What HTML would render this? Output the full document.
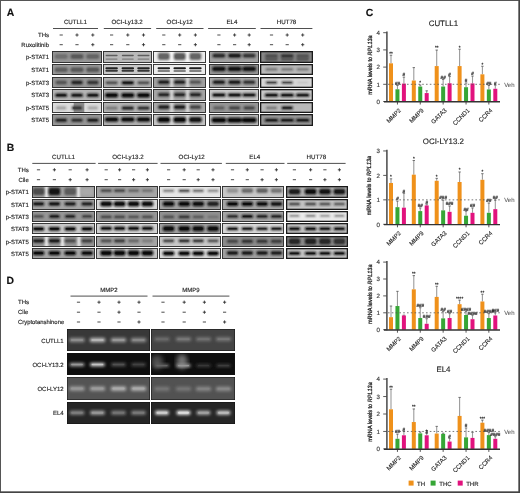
<!DOCTYPE html>
<html><head><meta charset="utf-8"><title>Figure</title>
<style>
html,body{margin:0;padding:0;background:#fff;}
body{width:520px;height:493px;overflow:hidden;font-family:"Liberation Sans",sans-serif;}
svg{display:block;will-change:transform;text-rendering:geometricPrecision;}
</style></head><body>
<svg width="520" height="493" viewBox="0 0 520 493" font-family="Liberation Sans, sans-serif"><defs><filter id="bl0_9" x="-20%" y="-50%" width="140%" height="200%"><feGaussianBlur stdDeviation="0.9"/></filter><filter id="bl1_4" x="-20%" y="-50%" width="140%" height="200%"><feGaussianBlur stdDeviation="1.4"/></filter><filter id="bl2_5" x="-20%" y="-50%" width="140%" height="200%"><feGaussianBlur stdDeviation="2.5"/></filter><filter id="bl1" x="-20%" y="-20%" width="140%" height="140%"><feGaussianBlur stdDeviation="1"/></filter></defs><text x="6.8" y="16.3" font-size="10.4" text-anchor="start" fill="#111" font-weight="bold" stroke="#111" stroke-width="0.14">A</text><text x="75.4" y="24.4" font-size="6.2" text-anchor="middle" fill="#1c1c1c" font-weight="normal" stroke="#1c1c1c" stroke-width="0.14">CUTLL1</text><line x1="53" y1="28.5" x2="98" y2="28.5" stroke="#222" stroke-width="0.8"/><line x1="59.6" y1="35" x2="62.8" y2="35" stroke="#2a2a2a" stroke-width="0.85"/><line x1="59.6" y1="44.7" x2="62.8" y2="44.7" stroke="#2a2a2a" stroke-width="0.85"/><line x1="75.4" y1="35" x2="78.6" y2="35" stroke="#2a2a2a" stroke-width="0.85"/><line x1="77" y1="33.4" x2="77" y2="36.6" stroke="#2a2a2a" stroke-width="0.85"/><line x1="75.4" y1="44.7" x2="78.6" y2="44.7" stroke="#2a2a2a" stroke-width="0.85"/><line x1="91.2" y1="35" x2="94.4" y2="35" stroke="#2a2a2a" stroke-width="0.85"/><line x1="92.8" y1="33.4" x2="92.8" y2="36.6" stroke="#2a2a2a" stroke-width="0.85"/><line x1="91.2" y1="44.7" x2="94.4" y2="44.7" stroke="#2a2a2a" stroke-width="0.85"/><line x1="92.8" y1="43.1" x2="92.8" y2="46.3" stroke="#2a2a2a" stroke-width="0.85"/><text x="127.1" y="24.4" font-size="6.2" text-anchor="middle" fill="#1c1c1c" font-weight="normal" stroke="#1c1c1c" stroke-width="0.14">OCI-Ly13.2</text><line x1="103.8" y1="28.5" x2="151.1" y2="28.5" stroke="#222" stroke-width="0.8"/><line x1="110" y1="35" x2="113.2" y2="35" stroke="#2a2a2a" stroke-width="0.85"/><line x1="110" y1="44.7" x2="113.2" y2="44.7" stroke="#2a2a2a" stroke-width="0.85"/><line x1="126.2" y1="35" x2="129.4" y2="35" stroke="#2a2a2a" stroke-width="0.85"/><line x1="127.8" y1="33.4" x2="127.8" y2="36.6" stroke="#2a2a2a" stroke-width="0.85"/><line x1="126.2" y1="44.7" x2="129.4" y2="44.7" stroke="#2a2a2a" stroke-width="0.85"/><line x1="141.9" y1="35" x2="145.1" y2="35" stroke="#2a2a2a" stroke-width="0.85"/><line x1="143.5" y1="33.4" x2="143.5" y2="36.6" stroke="#2a2a2a" stroke-width="0.85"/><line x1="141.9" y1="44.7" x2="145.1" y2="44.7" stroke="#2a2a2a" stroke-width="0.85"/><line x1="143.5" y1="43.1" x2="143.5" y2="46.3" stroke="#2a2a2a" stroke-width="0.85"/><text x="179.7" y="24.4" font-size="6.2" text-anchor="middle" fill="#1c1c1c" font-weight="normal" stroke="#1c1c1c" stroke-width="0.14">OCI-Ly12</text><line x1="156.2" y1="28.5" x2="203.5" y2="28.5" stroke="#222" stroke-width="0.8"/><line x1="162.2" y1="35" x2="165.4" y2="35" stroke="#2a2a2a" stroke-width="0.85"/><line x1="162.2" y1="44.7" x2="165.4" y2="44.7" stroke="#2a2a2a" stroke-width="0.85"/><line x1="178.1" y1="35" x2="181.3" y2="35" stroke="#2a2a2a" stroke-width="0.85"/><line x1="179.7" y1="33.4" x2="179.7" y2="36.6" stroke="#2a2a2a" stroke-width="0.85"/><line x1="178.1" y1="44.7" x2="181.3" y2="44.7" stroke="#2a2a2a" stroke-width="0.85"/><line x1="193.8" y1="35" x2="197" y2="35" stroke="#2a2a2a" stroke-width="0.85"/><line x1="195.4" y1="33.4" x2="195.4" y2="36.6" stroke="#2a2a2a" stroke-width="0.85"/><line x1="193.8" y1="44.7" x2="197" y2="44.7" stroke="#2a2a2a" stroke-width="0.85"/><line x1="195.4" y1="43.1" x2="195.4" y2="46.3" stroke="#2a2a2a" stroke-width="0.85"/><text x="231.9" y="24.4" font-size="6.2" text-anchor="middle" fill="#1c1c1c" font-weight="normal" stroke="#1c1c1c" stroke-width="0.14">EL4</text><line x1="208.1" y1="28.5" x2="255.8" y2="28.5" stroke="#222" stroke-width="0.8"/><line x1="217.3" y1="35" x2="220.5" y2="35" stroke="#2a2a2a" stroke-width="0.85"/><line x1="217.3" y1="44.7" x2="220.5" y2="44.7" stroke="#2a2a2a" stroke-width="0.85"/><line x1="233" y1="35" x2="236.2" y2="35" stroke="#2a2a2a" stroke-width="0.85"/><line x1="234.6" y1="33.4" x2="234.6" y2="36.6" stroke="#2a2a2a" stroke-width="0.85"/><line x1="233" y1="44.7" x2="236.2" y2="44.7" stroke="#2a2a2a" stroke-width="0.85"/><line x1="247.6" y1="35" x2="250.8" y2="35" stroke="#2a2a2a" stroke-width="0.85"/><line x1="249.2" y1="33.4" x2="249.2" y2="36.6" stroke="#2a2a2a" stroke-width="0.85"/><line x1="247.6" y1="44.7" x2="250.8" y2="44.7" stroke="#2a2a2a" stroke-width="0.85"/><line x1="249.2" y1="43.1" x2="249.2" y2="46.3" stroke="#2a2a2a" stroke-width="0.85"/><text x="286.5" y="24.4" font-size="6.2" text-anchor="middle" fill="#1c1c1c" font-weight="normal" stroke="#1c1c1c" stroke-width="0.14">HUT78</text><line x1="260.5" y1="28.5" x2="312.4" y2="28.5" stroke="#222" stroke-width="0.8"/><line x1="269.9" y1="35" x2="273.1" y2="35" stroke="#2a2a2a" stroke-width="0.85"/><line x1="269.9" y1="44.7" x2="273.1" y2="44.7" stroke="#2a2a2a" stroke-width="0.85"/><line x1="285.6" y1="35" x2="288.8" y2="35" stroke="#2a2a2a" stroke-width="0.85"/><line x1="287.2" y1="33.4" x2="287.2" y2="36.6" stroke="#2a2a2a" stroke-width="0.85"/><line x1="285.6" y1="44.7" x2="288.8" y2="44.7" stroke="#2a2a2a" stroke-width="0.85"/><line x1="301.1" y1="35" x2="304.3" y2="35" stroke="#2a2a2a" stroke-width="0.85"/><line x1="302.7" y1="33.4" x2="302.7" y2="36.6" stroke="#2a2a2a" stroke-width="0.85"/><line x1="301.1" y1="44.7" x2="304.3" y2="44.7" stroke="#2a2a2a" stroke-width="0.85"/><line x1="302.7" y1="43.1" x2="302.7" y2="46.3" stroke="#2a2a2a" stroke-width="0.85"/><text x="49" y="37" font-size="6" text-anchor="end" fill="#1c1c1c" font-weight="normal" stroke="#1c1c1c" stroke-width="0.14">THs</text><text x="49" y="46.8" font-size="6" text-anchor="end" fill="#1c1c1c" font-weight="normal" stroke="#1c1c1c" stroke-width="0.14">Ruxolitinib</text><text x="49" y="59.00000000000001" font-size="6" text-anchor="end" fill="#1c1c1c" font-weight="normal" stroke="#1c1c1c" stroke-width="0.14">p-STAT1</text><text x="49" y="71.7" font-size="6" text-anchor="end" fill="#1c1c1c" font-weight="normal" stroke="#1c1c1c" stroke-width="0.14">STAT1</text><text x="49" y="84.80000000000001" font-size="6" text-anchor="end" fill="#1c1c1c" font-weight="normal" stroke="#1c1c1c" stroke-width="0.14">p-STAT3</text><text x="49" y="97.30000000000001" font-size="6" text-anchor="end" fill="#1c1c1c" font-weight="normal" stroke="#1c1c1c" stroke-width="0.14">STAT3</text><text x="49" y="110.0" font-size="6" text-anchor="end" fill="#1c1c1c" font-weight="normal" stroke="#1c1c1c" stroke-width="0.14">p-STAT5</text><text x="49" y="122.10000000000001" font-size="6" text-anchor="end" fill="#1c1c1c" font-weight="normal" stroke="#1c1c1c" stroke-width="0.14">STAT5</text><clipPath id="c1"><rect x="52" y="51" width="50" height="12"/></clipPath><g clip-path="url(#c1)"><rect x="52" y="51" width="50" height="12" fill="#969696"/><g filter="url(#bl0_9)"><rect x="54.55" y="53.90" width="13.30" height="5.00" rx="2.00" fill="#707070"/><rect x="70.35" y="53.90" width="13.30" height="5.00" rx="2.00" fill="#585858"/><rect x="86.15" y="53.90" width="13.30" height="5.00" rx="2.00" fill="#646464"/></g><g><rect x="56.20" y="55.35" width="10.00" height="2.10" rx="1.05" fill="#707070"/><rect x="72.00" y="55.35" width="10.00" height="2.10" rx="1.05" fill="#585858"/><rect x="87.80" y="55.35" width="10.00" height="2.10" rx="1.05" fill="#646464"/></g></g><rect x="52.45" y="51.45" width="49.10" height="11.10" fill="none" stroke="#2a2a2a" stroke-width="0.9"/><clipPath id="c2"><rect x="52" y="64" width="50" height="11"/></clipPath><g clip-path="url(#c2)"><rect x="52" y="64" width="50" height="11" fill="#9b9b9b"/><g filter="url(#bl0_9)"><rect x="54.55" y="67.30" width="13.30" height="5.00" rx="2.00" fill="#5f5f5f"/><rect x="70.35" y="67.30" width="13.30" height="5.00" rx="2.00" fill="#585858"/><rect x="86.15" y="67.30" width="13.30" height="5.00" rx="2.00" fill="#585858"/></g><g><rect x="56.20" y="68.75" width="10.00" height="2.10" rx="1.05" fill="#5f5f5f"/><rect x="72.00" y="68.75" width="10.00" height="2.10" rx="1.05" fill="#585858"/><rect x="87.80" y="68.75" width="10.00" height="2.10" rx="1.05" fill="#585858"/></g></g><rect x="52.45" y="64.45" width="49.10" height="10.10" fill="none" stroke="#2a2a2a" stroke-width="0.9"/><clipPath id="c3"><rect x="52" y="77" width="50" height="11"/></clipPath><g clip-path="url(#c3)"><rect x="52" y="77" width="50" height="11" fill="#969696"/><g filter="url(#bl0_9)"><rect x="55.30" y="80.60" width="11.80" height="3.80" rx="1.90" fill="#555555"/><rect x="71.10" y="80.60" width="11.80" height="3.80" rx="1.90" fill="#282828"/><rect x="86.90" y="80.60" width="11.80" height="3.80" rx="1.90" fill="#373737"/></g><g><rect x="56.80" y="81.75" width="8.80" height="1.50" rx="0.75" fill="#555555"/><rect x="72.60" y="81.75" width="8.80" height="1.50" rx="0.75" fill="#282828"/><rect x="88.40" y="81.75" width="8.80" height="1.50" rx="0.75" fill="#373737"/></g></g><rect x="52.45" y="77.45" width="49.10" height="10.10" fill="none" stroke="#2a2a2a" stroke-width="0.9"/><clipPath id="c4"><rect x="52" y="89" width="50" height="12"/></clipPath><g clip-path="url(#c4)"><rect x="52" y="89" width="50" height="12" fill="#b4b4b4"/><g filter="url(#bl0_9)"><rect x="55.05" y="93.50" width="12.30" height="3.40" rx="1.70" fill="#141414"/><rect x="70.85" y="93.50" width="12.30" height="3.40" rx="1.70" fill="#191919"/><rect x="86.65" y="93.50" width="12.30" height="3.40" rx="1.70" fill="#141414"/></g><g><rect x="56.60" y="94.55" width="9.20" height="1.30" rx="0.65" fill="#141414"/><rect x="72.40" y="94.55" width="9.20" height="1.30" rx="0.65" fill="#191919"/><rect x="88.20" y="94.55" width="9.20" height="1.30" rx="0.65" fill="#141414"/></g></g><rect x="52.45" y="89.45" width="49.10" height="11.10" fill="none" stroke="#2a2a2a" stroke-width="0.9"/><clipPath id="c5"><rect x="52" y="102" width="50" height="11"/></clipPath><g clip-path="url(#c5)"><rect x="52" y="102" width="50" height="11" fill="#dcdcdc"/><g><rect x="73.7" y="100" width="10.6" height="15" fill="#8c8c8c"/></g><g filter="url(#bl0_9)"><rect x="55.80" y="106.00" width="10.80" height="3.80" rx="1.90" fill="#aaaaaa"/><rect x="71.60" y="106.00" width="10.80" height="3.80" rx="1.90" fill="#3c3c3c"/><rect x="87.40" y="106.00" width="10.80" height="3.80" rx="1.90" fill="#afafaf"/></g><g><rect x="57.20" y="107.15" width="8.00" height="1.50" rx="0.75" fill="#aaaaaa"/><rect x="73.00" y="107.15" width="8.00" height="1.50" rx="0.75" fill="#3c3c3c"/><rect x="88.80" y="107.15" width="8.00" height="1.50" rx="0.75" fill="#afafaf"/></g></g><rect x="52.45" y="102.45" width="49.10" height="10.10" fill="none" stroke="#2a2a2a" stroke-width="0.9"/><clipPath id="c6"><rect x="52" y="114" width="50" height="12"/></clipPath><g clip-path="url(#c6)"><rect x="52" y="114" width="50" height="12" fill="#969696"/><g filter="url(#bl0_9)"><rect x="55.30" y="118.50" width="11.80" height="3.40" rx="1.70" fill="#232323"/><rect x="71.10" y="118.50" width="11.80" height="3.40" rx="1.70" fill="#323232"/><rect x="86.90" y="118.50" width="11.80" height="3.40" rx="1.70" fill="#1e1e1e"/></g><g><rect x="56.80" y="119.55" width="8.80" height="1.30" rx="0.65" fill="#232323"/><rect x="72.60" y="119.55" width="8.80" height="1.30" rx="0.65" fill="#323232"/><rect x="88.40" y="119.55" width="8.80" height="1.30" rx="0.65" fill="#1e1e1e"/></g></g><rect x="52.45" y="114.45" width="49.10" height="11.10" fill="none" stroke="#2a2a2a" stroke-width="0.9"/><clipPath id="c7"><rect x="103" y="51" width="49" height="12"/></clipPath><g clip-path="url(#c7)"><rect x="103" y="51" width="49" height="12" fill="#b9b9b9"/><g><rect x="105.60" y="54.80" width="12.00" height="1.40" rx="0.70" fill="#5f5f5f"/><rect x="105.60" y="58.40" width="12.00" height="1.40" rx="0.70" fill="#7d7d7d"/><rect x="121.80" y="54.80" width="12.00" height="1.40" rx="0.70" fill="#5a5a5a"/><rect x="121.80" y="58.40" width="12.00" height="1.40" rx="0.70" fill="#7d7d7d"/><rect x="137.50" y="54.80" width="12.00" height="1.40" rx="0.70" fill="#5f5f5f"/><rect x="137.50" y="58.40" width="12.00" height="1.40" rx="0.70" fill="#7d7d7d"/></g></g><rect x="103.45" y="51.45" width="48.10" height="11.10" fill="none" stroke="#2a2a2a" stroke-width="0.9"/><clipPath id="c8"><rect x="103" y="64" width="49" height="11"/></clipPath><g clip-path="url(#c8)"><rect x="103" y="64" width="49" height="11" fill="#c8c8c8"/><g><rect x="105.35" y="67.30" width="12.50" height="2.00" rx="1.00" fill="#232323"/><rect x="105.35" y="69.70" width="12.50" height="2.00" rx="1.00" fill="#373737"/><rect x="121.55" y="67.30" width="12.50" height="2.00" rx="1.00" fill="#232323"/><rect x="121.55" y="69.70" width="12.50" height="2.00" rx="1.00" fill="#373737"/><rect x="137.25" y="67.30" width="12.50" height="2.00" rx="1.00" fill="#232323"/><rect x="137.25" y="69.70" width="12.50" height="2.00" rx="1.00" fill="#373737"/></g></g><rect x="103.45" y="64.45" width="48.10" height="10.10" fill="none" stroke="#2a2a2a" stroke-width="0.9"/><clipPath id="c9"><rect x="103" y="77" width="49" height="11"/></clipPath><g clip-path="url(#c9)"><rect x="103" y="77" width="49" height="11" fill="#b2b2b2"/><g filter="url(#bl0_9)"><rect x="105.20" y="80.90" width="12.80" height="3.60" rx="1.80" fill="#5a5a5a"/><rect x="121.40" y="80.90" width="12.80" height="3.60" rx="1.80" fill="#191919"/><rect x="137.10" y="80.90" width="12.80" height="3.60" rx="1.80" fill="#5a5a5a"/></g><g><rect x="106.80" y="82.00" width="9.60" height="1.40" rx="0.70" fill="#5a5a5a"/><rect x="123.00" y="82.00" width="9.60" height="1.40" rx="0.70" fill="#191919"/><rect x="138.70" y="82.00" width="9.60" height="1.40" rx="0.70" fill="#5a5a5a"/></g></g><rect x="103.45" y="77.45" width="48.10" height="10.10" fill="none" stroke="#2a2a2a" stroke-width="0.9"/><clipPath id="c10"><rect x="103" y="89" width="49" height="12"/></clipPath><g clip-path="url(#c10)"><rect x="103" y="89" width="49" height="12" fill="#afafaf"/><g filter="url(#bl0_9)"><rect x="104.95" y="93.00" width="13.30" height="4.60" rx="2.00" fill="#0c0c0c"/><rect x="121.15" y="93.00" width="13.30" height="4.60" rx="2.00" fill="#0c0c0c"/><rect x="136.85" y="93.00" width="13.30" height="4.60" rx="2.00" fill="#0c0c0c"/></g><g><rect x="106.60" y="94.35" width="10.00" height="1.90" rx="0.95" fill="#0c0c0c"/><rect x="122.80" y="94.35" width="10.00" height="1.90" rx="0.95" fill="#0c0c0c"/><rect x="138.50" y="94.35" width="10.00" height="1.90" rx="0.95" fill="#0c0c0c"/></g></g><rect x="103.45" y="89.45" width="48.10" height="11.10" fill="none" stroke="#2a2a2a" stroke-width="0.9"/><clipPath id="c11"><rect x="103" y="102" width="49" height="11"/></clipPath><g clip-path="url(#c11)"><rect x="103" y="102" width="49" height="11" fill="#b4b4b4"/><g filter="url(#bl0_9)"><rect x="105.20" y="106.20" width="12.80" height="3.80" rx="1.90" fill="#828282"/><rect x="121.40" y="106.20" width="12.80" height="3.80" rx="1.90" fill="#323232"/><rect x="137.10" y="106.20" width="12.80" height="3.80" rx="1.90" fill="#3c3c3c"/></g><g><rect x="106.80" y="107.35" width="9.60" height="1.50" rx="0.75" fill="#828282"/><rect x="123.00" y="107.35" width="9.60" height="1.50" rx="0.75" fill="#323232"/><rect x="138.70" y="107.35" width="9.60" height="1.50" rx="0.75" fill="#3c3c3c"/></g></g><rect x="103.45" y="102.45" width="48.10" height="10.10" fill="none" stroke="#2a2a2a" stroke-width="0.9"/><clipPath id="c12"><rect x="103" y="114" width="49" height="12"/></clipPath><g clip-path="url(#c12)"><rect x="103" y="114" width="49" height="12" fill="#afafaf"/><g filter="url(#bl0_9)"><rect x="104.70" y="117.35" width="13.80" height="4.30" rx="2.00" fill="#0f0f0f"/><rect x="120.90" y="117.35" width="13.80" height="4.30" rx="2.00" fill="#0f0f0f"/><rect x="136.60" y="117.35" width="13.80" height="4.30" rx="2.00" fill="#0f0f0f"/></g><g><rect x="106.40" y="118.62" width="10.40" height="1.75" rx="0.88" fill="#0f0f0f"/><rect x="122.60" y="118.62" width="10.40" height="1.75" rx="0.88" fill="#0f0f0f"/><rect x="138.30" y="118.62" width="10.40" height="1.75" rx="0.88" fill="#0f0f0f"/></g></g><rect x="103.45" y="114.45" width="48.10" height="11.10" fill="none" stroke="#2a2a2a" stroke-width="0.9"/><clipPath id="c13"><rect x="153" y="51" width="53" height="12"/></clipPath><g clip-path="url(#c13)"><rect x="153" y="51" width="53" height="12" fill="#eeeeee"/><g filter="url(#bl1)"><rect x="170.0" y="49" width="3" height="16" fill="#fafafa"/><rect x="186.0" y="49" width="3" height="16" fill="#fafafa"/></g><g filter="url(#bl0_9)"><rect x="157.90" y="52.75" width="11.80" height="7.30" rx="2.00" fill="#646464"/><rect x="173.80" y="52.75" width="11.80" height="7.30" rx="2.00" fill="#5a5a5a"/><rect x="189.50" y="52.75" width="11.80" height="7.30" rx="2.00" fill="#646464"/></g><g><rect x="159.40" y="54.77" width="8.80" height="3.25" rx="1.62" fill="#646464"/><rect x="175.30" y="54.77" width="8.80" height="3.25" rx="1.62" fill="#5a5a5a"/><rect x="191.00" y="54.77" width="8.80" height="3.25" rx="1.62" fill="#646464"/></g></g><rect x="153.45" y="51.45" width="52.10" height="11.10" fill="none" stroke="#2a2a2a" stroke-width="0.9"/><clipPath id="c14"><rect x="153" y="64" width="53" height="11"/></clipPath><g clip-path="url(#c14)"><rect x="153" y="64" width="53" height="11" fill="#ececec"/><g><rect x="157.55" y="67.30" width="12.50" height="2.00" rx="1.00" fill="#232323"/><rect x="157.55" y="70.10" width="12.50" height="2.00" rx="1.00" fill="#828282"/><rect x="173.45" y="67.30" width="12.50" height="2.00" rx="1.00" fill="#1e1e1e"/><rect x="173.45" y="70.10" width="12.50" height="2.00" rx="1.00" fill="#828282"/><rect x="189.15" y="67.30" width="12.50" height="2.00" rx="1.00" fill="#1e1e1e"/><rect x="189.15" y="70.10" width="12.50" height="2.00" rx="1.00" fill="#828282"/></g></g><rect x="153.45" y="64.45" width="52.10" height="10.10" fill="none" stroke="#2a2a2a" stroke-width="0.9"/><clipPath id="c15"><rect x="153" y="77" width="53" height="11"/></clipPath><g clip-path="url(#c15)"><rect x="153" y="77" width="53" height="11" fill="#a0a0a0"/><g filter="url(#bl1)"><rect x="169.95" y="75" width="3.5" height="15" fill="#d7d7d7"/><rect x="185.85" y="75" width="3.5" height="15" fill="#d7d7d7"/></g><g filter="url(#bl0_9)"><rect x="157.90" y="80.30" width="11.80" height="3.80" rx="1.90" fill="#232323"/><rect x="173.80" y="80.30" width="11.80" height="3.80" rx="1.90" fill="#282828"/><rect x="189.50" y="80.30" width="11.80" height="3.80" rx="1.90" fill="#5a5a5a"/></g><g><rect x="159.40" y="81.45" width="8.80" height="1.50" rx="0.75" fill="#232323"/><rect x="175.30" y="81.45" width="8.80" height="1.50" rx="0.75" fill="#282828"/><rect x="191.00" y="81.45" width="8.80" height="1.50" rx="0.75" fill="#5a5a5a"/></g></g><rect x="153.45" y="77.45" width="52.10" height="10.10" fill="none" stroke="#2a2a2a" stroke-width="0.9"/><clipPath id="c16"><rect x="153" y="89" width="53" height="12"/></clipPath><g clip-path="url(#c16)"><rect x="153" y="89" width="53" height="12" fill="#a5a5a5"/><g filter="url(#bl1)"><rect x="169.95" y="87" width="3.5" height="16" fill="#d7d7d7"/><rect x="185.85" y="87" width="3.5" height="16" fill="#d7d7d7"/></g><g filter="url(#bl0_9)"><rect x="157.90" y="92.80" width="11.80" height="3.80" rx="1.90" fill="#282828"/><rect x="173.80" y="92.80" width="11.80" height="3.80" rx="1.90" fill="#282828"/><rect x="189.50" y="92.80" width="11.80" height="3.80" rx="1.90" fill="#282828"/></g><g><rect x="159.40" y="93.95" width="8.80" height="1.50" rx="0.75" fill="#282828"/><rect x="175.30" y="93.95" width="8.80" height="1.50" rx="0.75" fill="#282828"/><rect x="191.00" y="93.95" width="8.80" height="1.50" rx="0.75" fill="#282828"/></g></g><rect x="153.45" y="89.45" width="52.10" height="11.10" fill="none" stroke="#2a2a2a" stroke-width="0.9"/><clipPath id="c17"><rect x="153" y="102" width="53" height="11"/></clipPath><g clip-path="url(#c17)"><rect x="153" y="102" width="53" height="11" fill="#aaaaaa"/><g filter="url(#bl1)"><rect x="169.95" y="100" width="3.5" height="15" fill="#d7d7d7"/><rect x="185.85" y="100" width="3.5" height="15" fill="#d7d7d7"/></g><g filter="url(#bl0_9)"><rect x="157.90" y="104.95" width="11.80" height="4.30" rx="2.00" fill="#282828"/><rect x="173.80" y="104.95" width="11.80" height="4.30" rx="2.00" fill="#232323"/><rect x="189.50" y="104.95" width="11.80" height="4.30" rx="2.00" fill="#4b4b4b"/></g><g><rect x="159.40" y="106.22" width="8.80" height="1.75" rx="0.88" fill="#282828"/><rect x="175.30" y="106.22" width="8.80" height="1.75" rx="0.88" fill="#232323"/><rect x="191.00" y="106.22" width="8.80" height="1.75" rx="0.88" fill="#4b4b4b"/></g></g><rect x="153.45" y="102.45" width="52.10" height="10.10" fill="none" stroke="#2a2a2a" stroke-width="0.9"/><clipPath id="c18"><rect x="153" y="114" width="53" height="12"/></clipPath><g clip-path="url(#c18)"><rect x="153" y="114" width="53" height="12" fill="#c3c3c3"/><g filter="url(#bl1)"><rect x="169.95" y="112" width="3.5" height="16" fill="#d7d7d7"/><rect x="185.85" y="112" width="3.5" height="16" fill="#d7d7d7"/></g><g filter="url(#bl0_9)"><rect x="157.40" y="116.90" width="12.80" height="5.60" rx="2.00" fill="#0a0a0a"/><rect x="173.30" y="116.90" width="12.80" height="5.60" rx="2.00" fill="#0a0a0a"/><rect x="189.00" y="116.90" width="12.80" height="5.60" rx="2.00" fill="#141414"/></g><g><rect x="159.00" y="118.50" width="9.60" height="2.40" rx="1.20" fill="#0a0a0a"/><rect x="174.90" y="118.50" width="9.60" height="2.40" rx="1.20" fill="#0a0a0a"/><rect x="190.60" y="118.50" width="9.60" height="2.40" rx="1.20" fill="#141414"/></g></g><rect x="153.45" y="114.45" width="52.10" height="11.10" fill="none" stroke="#2a2a2a" stroke-width="0.9"/><clipPath id="c19"><rect x="209" y="51" width="50" height="12"/></clipPath><g clip-path="url(#c19)"><rect x="209" y="51" width="50" height="12" fill="#a0a0a0"/><g filter="url(#bl0_9)"><rect x="212.25" y="53.60" width="13.30" height="4.20" rx="2.00" fill="#2d2d2d"/><rect x="227.95" y="53.60" width="13.30" height="4.20" rx="2.00" fill="#1e1e1e"/><rect x="242.55" y="53.60" width="13.30" height="4.20" rx="2.00" fill="#373737"/></g><g><rect x="213.90" y="54.85" width="10.00" height="1.70" rx="0.85" fill="#2d2d2d"/><rect x="229.60" y="54.85" width="10.00" height="1.70" rx="0.85" fill="#1e1e1e"/><rect x="244.20" y="54.85" width="10.00" height="1.70" rx="0.85" fill="#373737"/></g></g><rect x="209.45" y="51.45" width="49.10" height="11.10" fill="none" stroke="#2a2a2a" stroke-width="0.9"/><clipPath id="c20"><rect x="209" y="64" width="50" height="11"/></clipPath><g clip-path="url(#c20)"><rect x="209" y="64" width="50" height="11" fill="#969696"/><g filter="url(#bl0_9)"><rect x="212.00" y="66.40" width="13.80" height="4.80" rx="2.00" fill="#141414"/><rect x="227.70" y="66.40" width="13.80" height="4.80" rx="2.00" fill="#141414"/><rect x="242.30" y="66.40" width="13.80" height="4.80" rx="2.00" fill="#141414"/></g><g><rect x="213.70" y="67.80" width="10.40" height="2.00" rx="1.00" fill="#141414"/><rect x="229.40" y="67.80" width="10.40" height="2.00" rx="1.00" fill="#141414"/><rect x="244.00" y="67.80" width="10.40" height="2.00" rx="1.00" fill="#141414"/></g></g><rect x="209.45" y="64.45" width="49.10" height="10.10" fill="none" stroke="#2a2a2a" stroke-width="0.9"/><clipPath id="c21"><rect x="209" y="77" width="50" height="11"/></clipPath><g clip-path="url(#c21)"><rect x="209" y="77" width="50" height="11" fill="#aaaaaa"/><g filter="url(#bl0_9)"><rect x="212.50" y="80.20" width="12.80" height="4.00" rx="2.00" fill="#232323"/><rect x="228.20" y="80.20" width="12.80" height="4.00" rx="2.00" fill="#1e1e1e"/><rect x="242.80" y="80.20" width="12.80" height="4.00" rx="2.00" fill="#373737"/></g><g><rect x="214.10" y="81.40" width="9.60" height="1.60" rx="0.80" fill="#232323"/><rect x="229.80" y="81.40" width="9.60" height="1.60" rx="0.80" fill="#1e1e1e"/><rect x="244.40" y="81.40" width="9.60" height="1.60" rx="0.80" fill="#373737"/></g></g><rect x="209.45" y="77.45" width="49.10" height="10.10" fill="none" stroke="#2a2a2a" stroke-width="0.9"/><clipPath id="c22"><rect x="209" y="89" width="50" height="12"/></clipPath><g clip-path="url(#c22)"><rect x="209" y="89" width="50" height="12" fill="#c8c8c8"/><g filter="url(#bl0_9)"><rect x="212.00" y="93.30" width="13.80" height="3.40" rx="1.70" fill="#191919"/><rect x="227.70" y="93.30" width="13.80" height="3.40" rx="1.70" fill="#191919"/><rect x="242.30" y="93.30" width="13.80" height="3.40" rx="1.70" fill="#1e1e1e"/></g><g><rect x="213.70" y="94.35" width="10.40" height="1.30" rx="0.65" fill="#191919"/><rect x="229.40" y="94.35" width="10.40" height="1.30" rx="0.65" fill="#191919"/><rect x="244.00" y="94.35" width="10.40" height="1.30" rx="0.65" fill="#1e1e1e"/></g></g><rect x="209.45" y="89.45" width="49.10" height="11.10" fill="none" stroke="#2a2a2a" stroke-width="0.9"/><clipPath id="c23"><rect x="209" y="102" width="50" height="11"/></clipPath><g clip-path="url(#c23)"><rect x="209" y="102" width="50" height="11" fill="#969696"/><g filter="url(#bl0_9)"><rect x="213.00" y="106.00" width="11.80" height="3.80" rx="1.90" fill="#646464"/><rect x="228.70" y="106.00" width="11.80" height="3.80" rx="1.90" fill="#4b4b4b"/><rect x="243.30" y="106.00" width="11.80" height="3.80" rx="1.90" fill="#4b4b4b"/></g><g><rect x="214.50" y="107.15" width="8.80" height="1.50" rx="0.75" fill="#646464"/><rect x="230.20" y="107.15" width="8.80" height="1.50" rx="0.75" fill="#4b4b4b"/><rect x="244.80" y="107.15" width="8.80" height="1.50" rx="0.75" fill="#4b4b4b"/></g></g><rect x="209.45" y="102.45" width="49.10" height="10.10" fill="none" stroke="#2a2a2a" stroke-width="0.9"/><clipPath id="c24"><rect x="209" y="114" width="50" height="12"/></clipPath><g clip-path="url(#c24)"><rect x="209" y="114" width="50" height="12" fill="#b9b9b9"/><g filter="url(#bl0_9)"><rect x="211.50" y="117.55" width="14.80" height="5.30" rx="2.00" fill="#0a0a0a"/><rect x="227.20" y="117.55" width="14.80" height="5.30" rx="2.00" fill="#0a0a0a"/><rect x="241.80" y="117.55" width="14.80" height="5.30" rx="2.00" fill="#0a0a0a"/></g><g><rect x="213.30" y="119.08" width="11.20" height="2.25" rx="1.12" fill="#0a0a0a"/><rect x="229.00" y="119.08" width="11.20" height="2.25" rx="1.12" fill="#0a0a0a"/><rect x="243.60" y="119.08" width="11.20" height="2.25" rx="1.12" fill="#0a0a0a"/></g></g><rect x="209.45" y="114.45" width="49.10" height="11.10" fill="none" stroke="#2a2a2a" stroke-width="0.9"/><clipPath id="c25"><rect x="260" y="51" width="53" height="12"/></clipPath><g clip-path="url(#c25)"><rect x="260" y="51" width="53" height="12" fill="#878787"/><g filter="url(#bl0_9)"><rect x="264.85" y="54.00" width="13.30" height="3.80" rx="1.90" fill="#505050"/><rect x="264.85" y="57.20" width="13.30" height="3.80" rx="1.90" fill="#5a5a5a"/><rect x="280.55" y="54.00" width="13.30" height="3.80" rx="1.90" fill="#373737"/><rect x="280.55" y="57.20" width="13.30" height="3.80" rx="1.90" fill="#5a5a5a"/><rect x="296.05" y="54.00" width="13.30" height="3.80" rx="1.90" fill="#555555"/><rect x="296.05" y="57.20" width="13.30" height="3.80" rx="1.90" fill="#5a5a5a"/></g><g><rect x="266.50" y="55.15" width="10.00" height="1.50" rx="0.75" fill="#505050"/><rect x="266.50" y="58.35" width="10.00" height="1.50" rx="0.75" fill="#5a5a5a"/><rect x="282.20" y="55.15" width="10.00" height="1.50" rx="0.75" fill="#373737"/><rect x="282.20" y="58.35" width="10.00" height="1.50" rx="0.75" fill="#5a5a5a"/><rect x="297.70" y="55.15" width="10.00" height="1.50" rx="0.75" fill="#555555"/><rect x="297.70" y="58.35" width="10.00" height="1.50" rx="0.75" fill="#5a5a5a"/></g></g><rect x="260.65" y="51.65" width="51.70" height="10.70" fill="none" stroke="#1a1a1a" stroke-width="1.3"/><clipPath id="c26"><rect x="260" y="64" width="53" height="11"/></clipPath><g clip-path="url(#c26)"><rect x="260" y="64" width="53" height="11" fill="#b9b9b9"/><g filter="url(#bl0_9)"><rect x="265.10" y="67.65" width="12.80" height="3.30" rx="1.65" fill="#828282"/><rect x="280.80" y="67.65" width="12.80" height="3.30" rx="1.65" fill="#828282"/><rect x="296.30" y="67.65" width="12.80" height="3.30" rx="1.65" fill="#878787"/></g><g><rect x="266.70" y="68.67" width="9.60" height="1.25" rx="0.62" fill="#828282"/><rect x="282.40" y="68.67" width="9.60" height="1.25" rx="0.62" fill="#828282"/><rect x="297.90" y="68.67" width="9.60" height="1.25" rx="0.62" fill="#878787"/></g></g><rect x="260.65" y="64.65" width="51.70" height="9.70" fill="none" stroke="#1a1a1a" stroke-width="1.3"/><clipPath id="c27"><rect x="260" y="77" width="53" height="11"/></clipPath><g clip-path="url(#c27)"><rect x="260" y="77" width="53" height="11" fill="#d7d7d7"/><g filter="url(#bl0_9)"><rect x="265.60" y="81.20" width="11.80" height="2.80" rx="1.40" fill="#4b4b4b"/><rect x="281.30" y="81.20" width="11.80" height="2.80" rx="1.40" fill="#505050"/><rect x="296.80" y="81.20" width="11.80" height="2.80" rx="1.40" fill="#c8c8c8"/></g><g><rect x="267.10" y="82.10" width="8.80" height="1.00" rx="0.50" fill="#4b4b4b"/><rect x="282.80" y="82.10" width="8.80" height="1.00" rx="0.50" fill="#505050"/><rect x="298.30" y="82.10" width="8.80" height="1.00" rx="0.50" fill="#c8c8c8"/></g></g><rect x="260.65" y="77.65" width="51.70" height="9.70" fill="none" stroke="#1a1a1a" stroke-width="1.3"/><clipPath id="c28"><rect x="260" y="89" width="53" height="12"/></clipPath><g clip-path="url(#c28)"><rect x="260" y="89" width="53" height="12" fill="#c8c8c8"/><g filter="url(#bl0_9)"><rect x="264.60" y="93.55" width="13.80" height="3.30" rx="1.65" fill="#141414"/><rect x="280.30" y="93.55" width="13.80" height="3.30" rx="1.65" fill="#141414"/><rect x="295.80" y="93.55" width="13.80" height="3.30" rx="1.65" fill="#191919"/></g><g><rect x="266.30" y="94.58" width="10.40" height="1.25" rx="0.62" fill="#141414"/><rect x="282.00" y="94.58" width="10.40" height="1.25" rx="0.62" fill="#141414"/><rect x="297.50" y="94.58" width="10.40" height="1.25" rx="0.62" fill="#191919"/></g></g><rect x="260.65" y="89.65" width="51.70" height="10.70" fill="none" stroke="#1a1a1a" stroke-width="1.3"/><clipPath id="c29"><rect x="260" y="102" width="53" height="11"/></clipPath><g clip-path="url(#c29)"><rect x="260" y="102" width="53" height="11" fill="#b9b9b9"/><g filter="url(#bl0_9)"><rect x="265.60" y="106.35" width="11.80" height="3.10" rx="1.55" fill="#828282"/><rect x="281.30" y="106.35" width="11.80" height="3.10" rx="1.55" fill="#232323"/></g><g><rect x="267.10" y="107.32" width="8.80" height="1.15" rx="0.57" fill="#828282"/><rect x="282.80" y="107.32" width="8.80" height="1.15" rx="0.57" fill="#232323"/></g></g><rect x="260.65" y="102.65" width="51.70" height="9.70" fill="none" stroke="#1a1a1a" stroke-width="1.3"/><clipPath id="c30"><rect x="260" y="114" width="53" height="12"/></clipPath><g clip-path="url(#c30)"><rect x="260" y="114" width="53" height="12" fill="#969696"/><g filter="url(#bl0_9)"><rect x="264.60" y="118.65" width="13.80" height="3.10" rx="1.55" fill="#191919"/><rect x="280.30" y="118.65" width="13.80" height="3.10" rx="1.55" fill="#191919"/><rect x="295.80" y="118.65" width="13.80" height="3.10" rx="1.55" fill="#191919"/></g><g><rect x="266.30" y="119.62" width="10.40" height="1.15" rx="0.57" fill="#191919"/><rect x="282.00" y="119.62" width="10.40" height="1.15" rx="0.57" fill="#191919"/><rect x="297.50" y="119.62" width="10.40" height="1.15" rx="0.57" fill="#191919"/></g></g><rect x="260.65" y="114.65" width="51.70" height="10.70" fill="none" stroke="#1a1a1a" stroke-width="1.3"/><text x="6.8" y="151.3" font-size="10.4" text-anchor="start" fill="#111" font-weight="bold" stroke="#111" stroke-width="0.14">B</text><text x="63.5" y="159.0" font-size="6.2" text-anchor="middle" fill="#1c1c1c" font-weight="normal" stroke="#1c1c1c" stroke-width="0.14">CUTLL1</text><line x1="32.3" y1="163.4" x2="95.6" y2="163.4" stroke="#222" stroke-width="0.8"/><line x1="36.9" y1="169.8" x2="40.1" y2="169.8" stroke="#2a2a2a" stroke-width="0.85"/><line x1="36.9" y1="179.7" x2="40.1" y2="179.7" stroke="#2a2a2a" stroke-width="0.85"/><line x1="52.8" y1="169.8" x2="56" y2="169.8" stroke="#2a2a2a" stroke-width="0.85"/><line x1="54.4" y1="168.2" x2="54.4" y2="171.4" stroke="#2a2a2a" stroke-width="0.85"/><line x1="52.8" y1="179.7" x2="56" y2="179.7" stroke="#2a2a2a" stroke-width="0.85"/><line x1="68.6" y1="169.8" x2="71.8" y2="169.8" stroke="#2a2a2a" stroke-width="0.85"/><line x1="68.6" y1="179.7" x2="71.8" y2="179.7" stroke="#2a2a2a" stroke-width="0.85"/><line x1="70.2" y1="178.1" x2="70.2" y2="181.3" stroke="#2a2a2a" stroke-width="0.85"/><line x1="85.5" y1="169.8" x2="88.7" y2="169.8" stroke="#2a2a2a" stroke-width="0.85"/><line x1="87.1" y1="168.2" x2="87.1" y2="171.4" stroke="#2a2a2a" stroke-width="0.85"/><line x1="85.5" y1="179.7" x2="88.7" y2="179.7" stroke="#2a2a2a" stroke-width="0.85"/><line x1="87.1" y1="178.1" x2="87.1" y2="181.3" stroke="#2a2a2a" stroke-width="0.85"/><text x="128" y="159.0" font-size="6.2" text-anchor="middle" fill="#1c1c1c" font-weight="normal" stroke="#1c1c1c" stroke-width="0.14">OCI-Ly13.2</text><line x1="98.1" y1="163.4" x2="157.6" y2="163.4" stroke="#222" stroke-width="0.8"/><line x1="104.6" y1="169.8" x2="107.8" y2="169.8" stroke="#2a2a2a" stroke-width="0.85"/><line x1="104.6" y1="179.7" x2="107.8" y2="179.7" stroke="#2a2a2a" stroke-width="0.85"/><line x1="118" y1="169.8" x2="121.2" y2="169.8" stroke="#2a2a2a" stroke-width="0.85"/><line x1="119.6" y1="168.2" x2="119.6" y2="171.4" stroke="#2a2a2a" stroke-width="0.85"/><line x1="118" y1="179.7" x2="121.2" y2="179.7" stroke="#2a2a2a" stroke-width="0.85"/><line x1="132" y1="169.8" x2="135.2" y2="169.8" stroke="#2a2a2a" stroke-width="0.85"/><line x1="132" y1="179.7" x2="135.2" y2="179.7" stroke="#2a2a2a" stroke-width="0.85"/><line x1="133.6" y1="178.1" x2="133.6" y2="181.3" stroke="#2a2a2a" stroke-width="0.85"/><line x1="145.8" y1="169.8" x2="149" y2="169.8" stroke="#2a2a2a" stroke-width="0.85"/><line x1="147.4" y1="168.2" x2="147.4" y2="171.4" stroke="#2a2a2a" stroke-width="0.85"/><line x1="145.8" y1="179.7" x2="149" y2="179.7" stroke="#2a2a2a" stroke-width="0.85"/><line x1="147.4" y1="178.1" x2="147.4" y2="181.3" stroke="#2a2a2a" stroke-width="0.85"/><text x="191.7" y="159.0" font-size="6.2" text-anchor="middle" fill="#1c1c1c" font-weight="normal" stroke="#1c1c1c" stroke-width="0.14">OCI-Ly12</text><line x1="160.5" y1="163.4" x2="221.9" y2="163.4" stroke="#222" stroke-width="0.8"/><line x1="167" y1="169.8" x2="170.2" y2="169.8" stroke="#2a2a2a" stroke-width="0.85"/><line x1="167" y1="179.7" x2="170.2" y2="179.7" stroke="#2a2a2a" stroke-width="0.85"/><line x1="182.6" y1="169.8" x2="185.8" y2="169.8" stroke="#2a2a2a" stroke-width="0.85"/><line x1="184.2" y1="168.2" x2="184.2" y2="171.4" stroke="#2a2a2a" stroke-width="0.85"/><line x1="182.6" y1="179.7" x2="185.8" y2="179.7" stroke="#2a2a2a" stroke-width="0.85"/><line x1="196.6" y1="169.8" x2="199.8" y2="169.8" stroke="#2a2a2a" stroke-width="0.85"/><line x1="196.6" y1="179.7" x2="199.8" y2="179.7" stroke="#2a2a2a" stroke-width="0.85"/><line x1="198.2" y1="178.1" x2="198.2" y2="181.3" stroke="#2a2a2a" stroke-width="0.85"/><line x1="211.4" y1="169.8" x2="214.6" y2="169.8" stroke="#2a2a2a" stroke-width="0.85"/><line x1="213" y1="168.2" x2="213" y2="171.4" stroke="#2a2a2a" stroke-width="0.85"/><line x1="211.4" y1="179.7" x2="214.6" y2="179.7" stroke="#2a2a2a" stroke-width="0.85"/><line x1="213" y1="178.1" x2="213" y2="181.3" stroke="#2a2a2a" stroke-width="0.85"/><text x="254.8" y="159.0" font-size="6.2" text-anchor="middle" fill="#1c1c1c" font-weight="normal" stroke="#1c1c1c" stroke-width="0.14">EL4</text><line x1="225.8" y1="163.4" x2="284.5" y2="163.4" stroke="#222" stroke-width="0.8"/><line x1="230.9" y1="169.8" x2="234.1" y2="169.8" stroke="#2a2a2a" stroke-width="0.85"/><line x1="230.9" y1="179.7" x2="234.1" y2="179.7" stroke="#2a2a2a" stroke-width="0.85"/><line x1="245.7" y1="169.8" x2="248.9" y2="169.8" stroke="#2a2a2a" stroke-width="0.85"/><line x1="247.3" y1="168.2" x2="247.3" y2="171.4" stroke="#2a2a2a" stroke-width="0.85"/><line x1="245.7" y1="179.7" x2="248.9" y2="179.7" stroke="#2a2a2a" stroke-width="0.85"/><line x1="260.5" y1="169.8" x2="263.7" y2="169.8" stroke="#2a2a2a" stroke-width="0.85"/><line x1="260.5" y1="179.7" x2="263.7" y2="179.7" stroke="#2a2a2a" stroke-width="0.85"/><line x1="262.1" y1="178.1" x2="262.1" y2="181.3" stroke="#2a2a2a" stroke-width="0.85"/><line x1="274.8" y1="169.8" x2="278" y2="169.8" stroke="#2a2a2a" stroke-width="0.85"/><line x1="276.4" y1="168.2" x2="276.4" y2="171.4" stroke="#2a2a2a" stroke-width="0.85"/><line x1="274.8" y1="179.7" x2="278" y2="179.7" stroke="#2a2a2a" stroke-width="0.85"/><line x1="276.4" y1="178.1" x2="276.4" y2="181.3" stroke="#2a2a2a" stroke-width="0.85"/><text x="316.3" y="159.0" font-size="6.2" text-anchor="middle" fill="#1c1c1c" font-weight="normal" stroke="#1c1c1c" stroke-width="0.14">HUT78</text><line x1="287.2" y1="163.4" x2="345.6" y2="163.4" stroke="#222" stroke-width="0.8"/><line x1="292.8" y1="169.8" x2="296" y2="169.8" stroke="#2a2a2a" stroke-width="0.85"/><line x1="292.8" y1="179.7" x2="296" y2="179.7" stroke="#2a2a2a" stroke-width="0.85"/><line x1="309" y1="169.8" x2="312.2" y2="169.8" stroke="#2a2a2a" stroke-width="0.85"/><line x1="310.6" y1="168.2" x2="310.6" y2="171.4" stroke="#2a2a2a" stroke-width="0.85"/><line x1="309" y1="179.7" x2="312.2" y2="179.7" stroke="#2a2a2a" stroke-width="0.85"/><line x1="323.3" y1="169.8" x2="326.5" y2="169.8" stroke="#2a2a2a" stroke-width="0.85"/><line x1="323.3" y1="179.7" x2="326.5" y2="179.7" stroke="#2a2a2a" stroke-width="0.85"/><line x1="324.9" y1="178.1" x2="324.9" y2="181.3" stroke="#2a2a2a" stroke-width="0.85"/><line x1="337.8" y1="169.8" x2="341" y2="169.8" stroke="#2a2a2a" stroke-width="0.85"/><line x1="339.4" y1="168.2" x2="339.4" y2="171.4" stroke="#2a2a2a" stroke-width="0.85"/><line x1="337.8" y1="179.7" x2="341" y2="179.7" stroke="#2a2a2a" stroke-width="0.85"/><line x1="339.4" y1="178.1" x2="339.4" y2="181.3" stroke="#2a2a2a" stroke-width="0.85"/><text x="28.8" y="172" font-size="6" text-anchor="end" fill="#1c1c1c" font-weight="normal" stroke="#1c1c1c" stroke-width="0.14">THs</text><text x="28.8" y="181.8" font-size="6" text-anchor="end" fill="#1c1c1c" font-weight="normal" stroke="#1c1c1c" stroke-width="0.14">Cile</text><text x="28.8" y="193.95" font-size="6" text-anchor="end" fill="#1c1c1c" font-weight="normal" stroke="#1c1c1c" stroke-width="0.14">p-STAT1</text><text x="28.8" y="206.55" font-size="6" text-anchor="end" fill="#1c1c1c" font-weight="normal" stroke="#1c1c1c" stroke-width="0.14">STAT1</text><text x="28.8" y="218.85" font-size="6" text-anchor="end" fill="#1c1c1c" font-weight="normal" stroke="#1c1c1c" stroke-width="0.14">p-STAT3</text><text x="28.8" y="231.15" font-size="6" text-anchor="end" fill="#1c1c1c" font-weight="normal" stroke="#1c1c1c" stroke-width="0.14">STAT3</text><text x="28.8" y="243.55" font-size="6" text-anchor="end" fill="#1c1c1c" font-weight="normal" stroke="#1c1c1c" stroke-width="0.14">p-STAT5</text><text x="28.8" y="255.75" font-size="6" text-anchor="end" fill="#1c1c1c" font-weight="normal" stroke="#1c1c1c" stroke-width="0.14">STAT5</text><clipPath id="c31"><rect x="32" y="186" width="63" height="12"/></clipPath><g clip-path="url(#c31)"><rect x="32" y="186" width="63" height="12" fill="#a0a0a0"/><g filter="url(#bl1)"><rect x="45.0" y="184" width="3" height="16" fill="#ebebeb"/><rect x="77.0" y="184" width="3" height="16" fill="#ebebeb"/></g><g filter="url(#bl0_9)"><rect x="32.60" y="187.85" width="11.80" height="7.30" rx="2.00" fill="#4b4b4b"/><rect x="48.50" y="187.85" width="11.80" height="7.30" rx="2.00" fill="#141414"/><rect x="64.30" y="187.85" width="11.80" height="7.30" rx="2.00" fill="#5a5a5a"/><rect x="81.20" y="187.85" width="11.80" height="7.30" rx="2.00" fill="#aaaaaa"/></g><g><rect x="34.10" y="189.88" width="8.80" height="3.25" rx="1.62" fill="#4b4b4b"/><rect x="50.00" y="189.88" width="8.80" height="3.25" rx="1.62" fill="#141414"/><rect x="65.80" y="189.88" width="8.80" height="3.25" rx="1.62" fill="#5a5a5a"/><rect x="82.70" y="189.88" width="8.80" height="3.25" rx="1.62" fill="#aaaaaa"/></g></g><rect x="32.45" y="186.45" width="62.10" height="11.10" fill="none" stroke="#2a2a2a" stroke-width="0.9"/><clipPath id="c32"><rect x="32" y="199" width="63" height="11"/></clipPath><g clip-path="url(#c32)"><rect x="32" y="199" width="63" height="11" fill="#a5a5a5"/><g filter="url(#bl0_9)"><rect x="32.60" y="201.90" width="11.80" height="3.80" rx="1.90" fill="#1e1e1e"/><rect x="48.50" y="201.90" width="11.80" height="3.80" rx="1.90" fill="#191919"/><rect x="64.30" y="201.90" width="11.80" height="3.80" rx="1.90" fill="#232323"/><rect x="81.20" y="201.90" width="11.80" height="3.80" rx="1.90" fill="#282828"/></g><g><rect x="34.10" y="203.05" width="8.80" height="1.50" rx="0.75" fill="#1e1e1e"/><rect x="50.00" y="203.05" width="8.80" height="1.50" rx="0.75" fill="#191919"/><rect x="65.80" y="203.05" width="8.80" height="1.50" rx="0.75" fill="#232323"/><rect x="82.70" y="203.05" width="8.80" height="1.50" rx="0.75" fill="#282828"/></g></g><rect x="32.45" y="199.45" width="62.10" height="10.10" fill="none" stroke="#2a2a2a" stroke-width="0.9"/><clipPath id="c33"><rect x="32" y="211" width="63" height="11"/></clipPath><g clip-path="url(#c33)"><rect x="32" y="211" width="63" height="11" fill="#969696"/><g filter="url(#bl0_9)"><rect x="33.10" y="214.70" width="10.80" height="3.40" rx="1.70" fill="#555555"/><rect x="49.00" y="214.70" width="10.80" height="3.40" rx="1.70" fill="#1e1e1e"/><rect x="64.80" y="214.70" width="10.80" height="3.40" rx="1.70" fill="#282828"/><rect x="81.70" y="214.70" width="10.80" height="3.40" rx="1.70" fill="#464646"/></g><g><rect x="34.50" y="215.75" width="8.00" height="1.30" rx="0.65" fill="#555555"/><rect x="50.40" y="215.75" width="8.00" height="1.30" rx="0.65" fill="#1e1e1e"/><rect x="66.20" y="215.75" width="8.00" height="1.30" rx="0.65" fill="#282828"/><rect x="83.10" y="215.75" width="8.00" height="1.30" rx="0.65" fill="#464646"/></g></g><rect x="32.45" y="211.45" width="62.10" height="10.10" fill="none" stroke="#2a2a2a" stroke-width="0.9"/><clipPath id="c34"><rect x="32" y="223" width="63" height="11"/></clipPath><g clip-path="url(#c34)"><rect x="32" y="223" width="63" height="11" fill="#c8c8c8"/><g filter="url(#bl0_9)"><rect x="32.60" y="226.90" width="11.80" height="3.80" rx="1.90" fill="#0f0f0f"/><rect x="48.50" y="226.90" width="11.80" height="3.80" rx="1.90" fill="#0f0f0f"/><rect x="64.30" y="226.90" width="11.80" height="3.80" rx="1.90" fill="#0f0f0f"/><rect x="81.20" y="226.90" width="11.80" height="3.80" rx="1.90" fill="#0f0f0f"/></g><g><rect x="34.10" y="228.05" width="8.80" height="1.50" rx="0.75" fill="#0f0f0f"/><rect x="50.00" y="228.05" width="8.80" height="1.50" rx="0.75" fill="#0f0f0f"/><rect x="65.80" y="228.05" width="8.80" height="1.50" rx="0.75" fill="#0f0f0f"/><rect x="82.70" y="228.05" width="8.80" height="1.50" rx="0.75" fill="#0f0f0f"/></g></g><rect x="32.45" y="223.45" width="62.10" height="10.10" fill="none" stroke="#2a2a2a" stroke-width="0.9"/><clipPath id="c35"><rect x="32" y="236" width="63" height="11"/></clipPath><g clip-path="url(#c35)"><rect x="32" y="236" width="63" height="11" fill="#969696"/><g filter="url(#bl1)"><rect x="44.75" y="234" width="3.5" height="15" fill="#ebebeb"/><rect x="60.75" y="234" width="3.5" height="15" fill="#ebebeb"/><rect x="77.5" y="234" width="3" height="15" fill="#ebebeb"/></g><g filter="url(#bl0_9)"><rect x="32.60" y="238.90" width="11.80" height="3.80" rx="1.90" fill="#232323"/><rect x="48.50" y="238.90" width="11.80" height="3.80" rx="1.90" fill="#1e1e1e"/><rect x="64.30" y="238.90" width="11.80" height="3.80" rx="1.90" fill="#505050"/><rect x="81.20" y="238.90" width="11.80" height="3.80" rx="1.90" fill="#464646"/></g><g><rect x="34.10" y="240.05" width="8.80" height="1.50" rx="0.75" fill="#232323"/><rect x="50.00" y="240.05" width="8.80" height="1.50" rx="0.75" fill="#1e1e1e"/><rect x="65.80" y="240.05" width="8.80" height="1.50" rx="0.75" fill="#505050"/><rect x="82.70" y="240.05" width="8.80" height="1.50" rx="0.75" fill="#464646"/></g></g><rect x="32.45" y="236.45" width="62.10" height="10.10" fill="none" stroke="#2a2a2a" stroke-width="0.9"/><clipPath id="c36"><rect x="32" y="248" width="63" height="11"/></clipPath><g clip-path="url(#c36)"><rect x="32" y="248" width="63" height="11" fill="#a5a5a5"/><g filter="url(#bl0_9)"><rect x="32.60" y="251.05" width="11.80" height="4.30" rx="2.00" fill="#0a0a0a"/><rect x="48.50" y="251.05" width="11.80" height="4.30" rx="2.00" fill="#0a0a0a"/><rect x="64.30" y="251.05" width="11.80" height="4.30" rx="2.00" fill="#0a0a0a"/><rect x="81.20" y="251.05" width="11.80" height="4.30" rx="2.00" fill="#0f0f0f"/></g><g><rect x="34.10" y="252.32" width="8.80" height="1.75" rx="0.88" fill="#0a0a0a"/><rect x="50.00" y="252.32" width="8.80" height="1.75" rx="0.88" fill="#0a0a0a"/><rect x="65.80" y="252.32" width="8.80" height="1.75" rx="0.88" fill="#0a0a0a"/><rect x="82.70" y="252.32" width="8.80" height="1.75" rx="0.88" fill="#0f0f0f"/></g></g><rect x="32.45" y="248.45" width="62.10" height="10.10" fill="none" stroke="#2a2a2a" stroke-width="0.9"/><clipPath id="c37"><rect x="96" y="186" width="62" height="12"/></clipPath><g clip-path="url(#c37)"><rect x="96" y="186" width="62" height="12" fill="#a5a5a5"/><g filter="url(#bl0_9)"><rect x="100.30" y="189.05" width="11.80" height="3.30" rx="1.65" fill="#555555"/><rect x="113.70" y="189.05" width="11.80" height="3.30" rx="1.65" fill="#505050"/><rect x="127.70" y="189.05" width="11.80" height="3.30" rx="1.65" fill="#6e6e6e"/><rect x="141.50" y="189.05" width="11.80" height="3.30" rx="1.65" fill="#787878"/></g><g><rect x="101.80" y="190.07" width="8.80" height="1.25" rx="0.62" fill="#555555"/><rect x="115.20" y="190.07" width="8.80" height="1.25" rx="0.62" fill="#505050"/><rect x="129.20" y="190.07" width="8.80" height="1.25" rx="0.62" fill="#6e6e6e"/><rect x="143.00" y="190.07" width="8.80" height="1.25" rx="0.62" fill="#787878"/></g></g><rect x="96.45" y="186.45" width="61.10" height="11.10" fill="none" stroke="#2a2a2a" stroke-width="0.9"/><clipPath id="c38"><rect x="96" y="199" width="62" height="11"/></clipPath><g clip-path="url(#c38)"><rect x="96" y="199" width="62" height="11" fill="#d7d7d7"/><g filter="url(#bl0_9)"><rect x="100.30" y="201.20" width="11.80" height="5.20" rx="2.00" fill="#0f0f0f"/><rect x="113.70" y="201.20" width="11.80" height="5.20" rx="2.00" fill="#0f0f0f"/><rect x="127.70" y="201.20" width="11.80" height="5.20" rx="2.00" fill="#0f0f0f"/><rect x="141.50" y="201.20" width="11.80" height="5.20" rx="2.00" fill="#0f0f0f"/></g><g><rect x="101.80" y="202.70" width="8.80" height="2.20" rx="1.10" fill="#0f0f0f"/><rect x="115.20" y="202.70" width="8.80" height="2.20" rx="1.10" fill="#0f0f0f"/><rect x="129.20" y="202.70" width="8.80" height="2.20" rx="1.10" fill="#0f0f0f"/><rect x="143.00" y="202.70" width="8.80" height="2.20" rx="1.10" fill="#0f0f0f"/></g></g><rect x="96.45" y="199.45" width="61.10" height="10.10" fill="none" stroke="#2a2a2a" stroke-width="0.9"/><clipPath id="c39"><rect x="96" y="211" width="62" height="11"/></clipPath><g clip-path="url(#c39)"><rect x="96" y="211" width="62" height="11" fill="#969696"/><g filter="url(#bl0_9)"><rect x="100.30" y="215.25" width="11.80" height="3.30" rx="1.65" fill="#505050"/><rect x="113.70" y="215.25" width="11.80" height="3.30" rx="1.65" fill="#505050"/><rect x="127.70" y="215.25" width="11.80" height="3.30" rx="1.65" fill="#5a5a5a"/><rect x="141.50" y="215.25" width="11.80" height="3.30" rx="1.65" fill="#555555"/></g><g><rect x="101.80" y="216.28" width="8.80" height="1.25" rx="0.62" fill="#505050"/><rect x="115.20" y="216.28" width="8.80" height="1.25" rx="0.62" fill="#505050"/><rect x="129.20" y="216.28" width="8.80" height="1.25" rx="0.62" fill="#5a5a5a"/><rect x="143.00" y="216.28" width="8.80" height="1.25" rx="0.62" fill="#555555"/></g></g><rect x="96.45" y="211.45" width="61.10" height="10.10" fill="none" stroke="#2a2a2a" stroke-width="0.9"/><clipPath id="c40"><rect x="96" y="223" width="62" height="11"/></clipPath><g clip-path="url(#c40)"><rect x="96" y="223" width="62" height="11" fill="#d2d2d2"/><g filter="url(#bl0_9)"><rect x="100.30" y="226.60" width="11.80" height="3.60" rx="1.80" fill="#141414"/><rect x="113.70" y="226.60" width="11.80" height="3.60" rx="1.80" fill="#141414"/><rect x="127.70" y="226.60" width="11.80" height="3.60" rx="1.80" fill="#141414"/><rect x="141.50" y="226.60" width="11.80" height="3.60" rx="1.80" fill="#141414"/></g><g><rect x="101.80" y="227.70" width="8.80" height="1.40" rx="0.70" fill="#141414"/><rect x="115.20" y="227.70" width="8.80" height="1.40" rx="0.70" fill="#141414"/><rect x="129.20" y="227.70" width="8.80" height="1.40" rx="0.70" fill="#141414"/><rect x="143.00" y="227.70" width="8.80" height="1.40" rx="0.70" fill="#141414"/></g></g><rect x="96.45" y="223.45" width="61.10" height="10.10" fill="none" stroke="#2a2a2a" stroke-width="0.9"/><clipPath id="c41"><rect x="96" y="236" width="62" height="11"/></clipPath><g clip-path="url(#c41)"><rect x="96" y="236" width="62" height="11" fill="#a5a5a5"/><g filter="url(#bl0_9)"><rect x="100.30" y="238.90" width="11.80" height="3.80" rx="1.90" fill="#5a5a5a"/><rect x="113.70" y="238.90" width="11.80" height="3.80" rx="1.90" fill="#464646"/><rect x="127.70" y="238.90" width="11.80" height="3.80" rx="1.90" fill="#6e6e6e"/><rect x="141.50" y="238.90" width="11.80" height="3.80" rx="1.90" fill="#828282"/></g><g><rect x="101.80" y="240.05" width="8.80" height="1.50" rx="0.75" fill="#5a5a5a"/><rect x="115.20" y="240.05" width="8.80" height="1.50" rx="0.75" fill="#464646"/><rect x="129.20" y="240.05" width="8.80" height="1.50" rx="0.75" fill="#6e6e6e"/><rect x="143.00" y="240.05" width="8.80" height="1.50" rx="0.75" fill="#828282"/></g></g><rect x="96.45" y="236.45" width="61.10" height="10.10" fill="none" stroke="#2a2a2a" stroke-width="0.9"/><clipPath id="c42"><rect x="96" y="248" width="62" height="11"/></clipPath><g clip-path="url(#c42)"><rect x="96" y="248" width="62" height="11" fill="#c3c3c3"/><g filter="url(#bl0_9)"><rect x="100.30" y="250.35" width="11.80" height="5.30" rx="2.00" fill="#0a0a0a"/><rect x="113.70" y="250.35" width="11.80" height="5.30" rx="2.00" fill="#0a0a0a"/><rect x="127.70" y="250.35" width="11.80" height="5.30" rx="2.00" fill="#0a0a0a"/><rect x="141.50" y="250.35" width="11.80" height="5.30" rx="2.00" fill="#0a0a0a"/></g><g><rect x="101.80" y="251.88" width="8.80" height="2.25" rx="1.12" fill="#0a0a0a"/><rect x="115.20" y="251.88" width="8.80" height="2.25" rx="1.12" fill="#0a0a0a"/><rect x="129.20" y="251.88" width="8.80" height="2.25" rx="1.12" fill="#0a0a0a"/><rect x="143.00" y="251.88" width="8.80" height="2.25" rx="1.12" fill="#0a0a0a"/></g></g><rect x="96.45" y="248.45" width="61.10" height="10.10" fill="none" stroke="#2a2a2a" stroke-width="0.9"/><clipPath id="c43"><rect x="159" y="186" width="62" height="12"/></clipPath><g clip-path="url(#c43)"><rect x="159" y="186" width="62" height="12" fill="#e6e6e6"/><g filter="url(#bl0_9)"><rect x="162.70" y="189.40" width="11.80" height="2.80" rx="1.40" fill="#8c8c8c"/><rect x="178.30" y="189.40" width="11.80" height="2.80" rx="1.40" fill="#555555"/><rect x="192.30" y="189.40" width="11.80" height="2.80" rx="1.40" fill="#787878"/><rect x="207.10" y="189.40" width="11.80" height="2.80" rx="1.40" fill="#969696"/></g><g><rect x="164.20" y="190.30" width="8.80" height="1.00" rx="0.50" fill="#8c8c8c"/><rect x="179.80" y="190.30" width="8.80" height="1.00" rx="0.50" fill="#555555"/><rect x="193.80" y="190.30" width="8.80" height="1.00" rx="0.50" fill="#787878"/><rect x="208.60" y="190.30" width="8.80" height="1.00" rx="0.50" fill="#969696"/></g></g><rect x="159.45" y="186.45" width="61.10" height="11.10" fill="none" stroke="#2a2a2a" stroke-width="0.9"/><clipPath id="c44"><rect x="159" y="199" width="62" height="11"/></clipPath><g clip-path="url(#c44)"><rect x="159" y="199" width="62" height="11" fill="#a0a0a0"/><g filter="url(#bl0_9)"><rect x="162.70" y="201.40" width="11.80" height="4.80" rx="2.00" fill="#0a0a0a"/><rect x="178.30" y="201.40" width="11.80" height="4.80" rx="2.00" fill="#0a0a0a"/><rect x="192.30" y="201.40" width="11.80" height="4.80" rx="2.00" fill="#0f0f0f"/><rect x="207.10" y="201.40" width="11.80" height="4.80" rx="2.00" fill="#232323"/></g><g><rect x="164.20" y="202.80" width="8.80" height="2.00" rx="1.00" fill="#0a0a0a"/><rect x="179.80" y="202.80" width="8.80" height="2.00" rx="1.00" fill="#0a0a0a"/><rect x="193.80" y="202.80" width="8.80" height="2.00" rx="1.00" fill="#0f0f0f"/><rect x="208.60" y="202.80" width="8.80" height="2.00" rx="1.00" fill="#232323"/></g></g><rect x="159.45" y="199.45" width="61.10" height="10.10" fill="none" stroke="#2a2a2a" stroke-width="0.9"/><clipPath id="c45"><rect x="159" y="211" width="62" height="11"/></clipPath><g clip-path="url(#c45)"><rect x="159" y="211" width="62" height="11" fill="#919191"/><g filter="url(#bl0_9)"><rect x="162.70" y="215.35" width="11.80" height="3.10" rx="1.55" fill="#555555"/><rect x="178.30" y="215.35" width="11.80" height="3.10" rx="1.55" fill="#3c3c3c"/><rect x="192.30" y="215.35" width="11.80" height="3.10" rx="1.55" fill="#5f5f5f"/><rect x="207.10" y="215.35" width="11.80" height="3.10" rx="1.55" fill="#787878"/></g><g><rect x="164.20" y="216.33" width="8.80" height="1.15" rx="0.57" fill="#555555"/><rect x="179.80" y="216.33" width="8.80" height="1.15" rx="0.57" fill="#3c3c3c"/><rect x="193.80" y="216.33" width="8.80" height="1.15" rx="0.57" fill="#5f5f5f"/><rect x="208.60" y="216.33" width="8.80" height="1.15" rx="0.57" fill="#787878"/></g></g><rect x="159.45" y="211.45" width="61.10" height="10.10" fill="none" stroke="#2a2a2a" stroke-width="0.9"/><clipPath id="c46"><rect x="159" y="223" width="62" height="11"/></clipPath><g clip-path="url(#c46)"><rect x="159" y="223" width="62" height="11" fill="#a0a0a0"/><g filter="url(#bl0_9)"><rect x="162.70" y="226.05" width="11.80" height="5.30" rx="2.00" fill="#0f0f0f"/><rect x="178.30" y="226.05" width="11.80" height="5.30" rx="2.00" fill="#0a0a0a"/><rect x="192.30" y="226.05" width="11.80" height="5.30" rx="2.00" fill="#0f0f0f"/><rect x="207.10" y="226.05" width="11.80" height="5.30" rx="2.00" fill="#0f0f0f"/></g><g><rect x="164.20" y="227.58" width="8.80" height="2.25" rx="1.12" fill="#0f0f0f"/><rect x="179.80" y="227.58" width="8.80" height="2.25" rx="1.12" fill="#0a0a0a"/><rect x="193.80" y="227.58" width="8.80" height="2.25" rx="1.12" fill="#0f0f0f"/><rect x="208.60" y="227.58" width="8.80" height="2.25" rx="1.12" fill="#0f0f0f"/></g></g><rect x="159.45" y="223.45" width="61.10" height="10.10" fill="none" stroke="#2a2a2a" stroke-width="0.9"/><clipPath id="c47"><rect x="159" y="236" width="62" height="11"/></clipPath><g clip-path="url(#c47)"><rect x="159" y="236" width="62" height="11" fill="#c8c8c8"/><g filter="url(#bl0_9)"><rect x="162.70" y="239.15" width="11.80" height="3.30" rx="1.65" fill="#505050"/><rect x="178.30" y="239.15" width="11.80" height="3.30" rx="1.65" fill="#373737"/><rect x="192.30" y="239.15" width="11.80" height="3.30" rx="1.65" fill="#414141"/><rect x="207.10" y="239.15" width="11.80" height="3.30" rx="1.65" fill="#5f5f5f"/></g><g><rect x="164.20" y="240.18" width="8.80" height="1.25" rx="0.62" fill="#505050"/><rect x="179.80" y="240.18" width="8.80" height="1.25" rx="0.62" fill="#373737"/><rect x="193.80" y="240.18" width="8.80" height="1.25" rx="0.62" fill="#414141"/><rect x="208.60" y="240.18" width="8.80" height="1.25" rx="0.62" fill="#5f5f5f"/></g></g><rect x="159.45" y="236.45" width="61.10" height="10.10" fill="none" stroke="#2a2a2a" stroke-width="0.9"/><clipPath id="c48"><rect x="159" y="248" width="62" height="11"/></clipPath><g clip-path="url(#c48)"><rect x="159" y="248" width="62" height="11" fill="#d7d7d7"/><g filter="url(#bl0_9)"><rect x="162.70" y="251.15" width="11.80" height="4.30" rx="2.00" fill="#0a0a0a"/><rect x="178.30" y="251.15" width="11.80" height="4.30" rx="2.00" fill="#0a0a0a"/><rect x="192.30" y="251.15" width="11.80" height="4.30" rx="2.00" fill="#0a0a0a"/><rect x="207.10" y="251.15" width="11.80" height="4.30" rx="2.00" fill="#0a0a0a"/></g><g><rect x="164.20" y="252.43" width="8.80" height="1.75" rx="0.88" fill="#0a0a0a"/><rect x="179.80" y="252.43" width="8.80" height="1.75" rx="0.88" fill="#0a0a0a"/><rect x="193.80" y="252.43" width="8.80" height="1.75" rx="0.88" fill="#0a0a0a"/><rect x="208.60" y="252.43" width="8.80" height="1.75" rx="0.88" fill="#0a0a0a"/></g></g><rect x="159.45" y="248.45" width="61.10" height="10.10" fill="none" stroke="#2a2a2a" stroke-width="0.9"/><clipPath id="c49"><rect x="222" y="186" width="62" height="12"/></clipPath><g clip-path="url(#c49)"><rect x="222" y="186" width="62" height="12" fill="#c8c8c8"/><g filter="url(#bl0_9)"><rect x="226.60" y="188.30" width="11.80" height="4.80" rx="2.00" fill="#969696"/><rect x="241.40" y="188.30" width="11.80" height="4.80" rx="2.00" fill="#6e6e6e"/><rect x="256.20" y="188.30" width="11.80" height="4.80" rx="2.00" fill="#646464"/><rect x="270.50" y="188.30" width="11.80" height="4.80" rx="2.00" fill="#787878"/></g><g><rect x="228.10" y="189.70" width="8.80" height="2.00" rx="1.00" fill="#969696"/><rect x="242.90" y="189.70" width="8.80" height="2.00" rx="1.00" fill="#6e6e6e"/><rect x="257.70" y="189.70" width="8.80" height="2.00" rx="1.00" fill="#646464"/><rect x="272.00" y="189.70" width="8.80" height="2.00" rx="1.00" fill="#787878"/></g></g><rect x="222.45" y="186.45" width="61.10" height="11.10" fill="none" stroke="#2a2a2a" stroke-width="0.9"/><clipPath id="c50"><rect x="222" y="199" width="62" height="11"/></clipPath><g clip-path="url(#c50)"><rect x="222" y="199" width="62" height="11" fill="#a5a5a5"/><g filter="url(#bl0_9)"><rect x="226.60" y="201.65" width="11.80" height="4.30" rx="2.00" fill="#0a0a0a"/><rect x="241.40" y="201.65" width="11.80" height="4.30" rx="2.00" fill="#0a0a0a"/><rect x="256.20" y="201.65" width="11.80" height="4.30" rx="2.00" fill="#0f0f0f"/><rect x="270.50" y="201.65" width="11.80" height="4.30" rx="2.00" fill="#191919"/></g><g><rect x="228.10" y="202.93" width="8.80" height="1.75" rx="0.88" fill="#0a0a0a"/><rect x="242.90" y="202.93" width="8.80" height="1.75" rx="0.88" fill="#0a0a0a"/><rect x="257.70" y="202.93" width="8.80" height="1.75" rx="0.88" fill="#0f0f0f"/><rect x="272.00" y="202.93" width="8.80" height="1.75" rx="0.88" fill="#191919"/></g></g><rect x="222.45" y="199.45" width="61.10" height="10.10" fill="none" stroke="#2a2a2a" stroke-width="0.9"/><clipPath id="c51"><rect x="222" y="211" width="62" height="11"/></clipPath><g clip-path="url(#c51)"><rect x="222" y="211" width="62" height="11" fill="#a5a5a5"/><g filter="url(#bl0_9)"><rect x="226.60" y="214.75" width="11.80" height="3.30" rx="1.65" fill="#323232"/><rect x="241.40" y="214.75" width="11.80" height="3.30" rx="1.65" fill="#141414"/><rect x="256.20" y="214.75" width="11.80" height="3.30" rx="1.65" fill="#282828"/><rect x="270.50" y="214.75" width="11.80" height="3.30" rx="1.65" fill="#282828"/></g><g><rect x="228.10" y="215.78" width="8.80" height="1.25" rx="0.62" fill="#323232"/><rect x="242.90" y="215.78" width="8.80" height="1.25" rx="0.62" fill="#141414"/><rect x="257.70" y="215.78" width="8.80" height="1.25" rx="0.62" fill="#282828"/><rect x="272.00" y="215.78" width="8.80" height="1.25" rx="0.62" fill="#282828"/></g></g><rect x="222.45" y="211.45" width="61.10" height="10.10" fill="none" stroke="#2a2a2a" stroke-width="0.9"/><clipPath id="c52"><rect x="222" y="223" width="62" height="11"/></clipPath><g clip-path="url(#c52)"><rect x="222" y="223" width="62" height="11" fill="#d7d7d7"/><g filter="url(#bl0_9)"><rect x="226.60" y="227.20" width="11.80" height="3.00" rx="1.50" fill="#141414"/><rect x="241.40" y="227.20" width="11.80" height="3.00" rx="1.50" fill="#191919"/><rect x="256.20" y="227.20" width="11.80" height="3.00" rx="1.50" fill="#232323"/><rect x="270.50" y="227.20" width="11.80" height="3.00" rx="1.50" fill="#191919"/></g><g><rect x="228.10" y="228.15" width="8.80" height="1.10" rx="0.55" fill="#141414"/><rect x="242.90" y="228.15" width="8.80" height="1.10" rx="0.55" fill="#191919"/><rect x="257.70" y="228.15" width="8.80" height="1.10" rx="0.55" fill="#232323"/><rect x="272.00" y="228.15" width="8.80" height="1.10" rx="0.55" fill="#191919"/></g></g><rect x="222.45" y="223.45" width="61.10" height="10.10" fill="none" stroke="#2a2a2a" stroke-width="0.9"/><clipPath id="c53"><rect x="222" y="236" width="62" height="11"/></clipPath><g clip-path="url(#c53)"><rect x="222" y="236" width="62" height="11" fill="#8c8c8c"/><g filter="url(#bl0_9)"><rect x="226.60" y="239.40" width="11.80" height="3.80" rx="1.90" fill="#4b4b4b"/><rect x="241.40" y="239.40" width="11.80" height="3.80" rx="1.90" fill="#373737"/><rect x="256.20" y="239.40" width="11.80" height="3.80" rx="1.90" fill="#3c3c3c"/><rect x="270.50" y="239.40" width="11.80" height="3.80" rx="1.90" fill="#414141"/></g><g><rect x="228.10" y="240.55" width="8.80" height="1.50" rx="0.75" fill="#4b4b4b"/><rect x="242.90" y="240.55" width="8.80" height="1.50" rx="0.75" fill="#373737"/><rect x="257.70" y="240.55" width="8.80" height="1.50" rx="0.75" fill="#3c3c3c"/><rect x="272.00" y="240.55" width="8.80" height="1.50" rx="0.75" fill="#414141"/></g></g><rect x="222.45" y="236.45" width="61.10" height="10.10" fill="none" stroke="#2a2a2a" stroke-width="0.9"/><clipPath id="c54"><rect x="222" y="248" width="62" height="11"/></clipPath><g clip-path="url(#c54)"><rect x="222" y="248" width="62" height="11" fill="#a0a0a0"/><g filter="url(#bl0_9)"><rect x="226.60" y="251.10" width="11.80" height="3.80" rx="1.90" fill="#1e1e1e"/><rect x="241.40" y="251.10" width="11.80" height="3.80" rx="1.90" fill="#1e1e1e"/><rect x="256.20" y="251.10" width="11.80" height="3.80" rx="1.90" fill="#1e1e1e"/><rect x="270.50" y="251.10" width="11.80" height="3.80" rx="1.90" fill="#232323"/></g><g><rect x="228.10" y="252.25" width="8.80" height="1.50" rx="0.75" fill="#1e1e1e"/><rect x="242.90" y="252.25" width="8.80" height="1.50" rx="0.75" fill="#1e1e1e"/><rect x="257.70" y="252.25" width="8.80" height="1.50" rx="0.75" fill="#1e1e1e"/><rect x="272.00" y="252.25" width="8.80" height="1.50" rx="0.75" fill="#232323"/></g></g><rect x="222.45" y="248.45" width="61.10" height="10.10" fill="none" stroke="#2a2a2a" stroke-width="0.9"/><clipPath id="c55"><rect x="286" y="186" width="62" height="12"/></clipPath><g clip-path="url(#c55)"><rect x="286" y="186" width="62" height="12" fill="#afafaf"/><g filter="url(#bl0_9)"><rect x="288.50" y="188.80" width="11.80" height="5.80" rx="2.00" fill="#1e1e1e"/><rect x="304.70" y="188.80" width="11.80" height="5.80" rx="2.00" fill="#0f0f0f"/><rect x="319.00" y="188.80" width="11.80" height="5.80" rx="2.00" fill="#141414"/><rect x="333.50" y="188.80" width="11.80" height="5.80" rx="2.00" fill="#191919"/></g><g><rect x="290.00" y="190.45" width="8.80" height="2.50" rx="1.25" fill="#1e1e1e"/><rect x="306.20" y="190.45" width="8.80" height="2.50" rx="1.25" fill="#0f0f0f"/><rect x="320.50" y="190.45" width="8.80" height="2.50" rx="1.25" fill="#141414"/><rect x="335.00" y="190.45" width="8.80" height="2.50" rx="1.25" fill="#191919"/></g></g><rect x="286.65" y="186.65" width="60.70" height="10.70" fill="none" stroke="#1a1a1a" stroke-width="1.3"/><clipPath id="c56"><rect x="286" y="199" width="62" height="11"/></clipPath><g clip-path="url(#c56)"><rect x="286" y="199" width="62" height="11" fill="#c3c3c3"/><g filter="url(#bl0_9)"><rect x="288.50" y="202.50" width="11.80" height="3.00" rx="1.50" fill="#555555"/><rect x="304.70" y="202.50" width="11.80" height="3.00" rx="1.50" fill="#555555"/><rect x="319.00" y="202.50" width="11.80" height="3.00" rx="1.50" fill="#5a5a5a"/><rect x="333.50" y="202.50" width="11.80" height="3.00" rx="1.50" fill="#646464"/></g><g><rect x="290.00" y="203.45" width="8.80" height="1.10" rx="0.55" fill="#555555"/><rect x="306.20" y="203.45" width="8.80" height="1.10" rx="0.55" fill="#555555"/><rect x="320.50" y="203.45" width="8.80" height="1.10" rx="0.55" fill="#5a5a5a"/><rect x="335.00" y="203.45" width="8.80" height="1.10" rx="0.55" fill="#646464"/></g></g><rect x="286.65" y="199.65" width="60.70" height="9.70" fill="none" stroke="#1a1a1a" stroke-width="1.3"/><clipPath id="c57"><rect x="286" y="211" width="62" height="11"/></clipPath><g clip-path="url(#c57)"><rect x="286" y="211" width="62" height="11" fill="#ebebeb"/><g filter="url(#bl0_9)"><rect x="289.00" y="214.75" width="10.80" height="2.30" rx="1.15" fill="#969696"/><rect x="305.20" y="214.75" width="10.80" height="2.30" rx="1.15" fill="#8c8c8c"/><rect x="319.50" y="214.75" width="10.80" height="2.30" rx="1.15" fill="#a0a0a0"/><rect x="334.00" y="214.75" width="10.80" height="2.30" rx="1.15" fill="#969696"/></g><g><rect x="290.40" y="215.53" width="8.00" height="0.75" rx="0.38" fill="#969696"/><rect x="306.60" y="215.53" width="8.00" height="0.75" rx="0.38" fill="#8c8c8c"/><rect x="320.90" y="215.53" width="8.00" height="0.75" rx="0.38" fill="#a0a0a0"/><rect x="335.40" y="215.53" width="8.00" height="0.75" rx="0.38" fill="#969696"/></g></g><rect x="286.65" y="211.65" width="60.70" height="9.70" fill="none" stroke="#1a1a1a" stroke-width="1.3"/><clipPath id="c58"><rect x="286" y="223" width="62" height="11"/></clipPath><g clip-path="url(#c58)"><rect x="286" y="223" width="62" height="11" fill="#c3c3c3"/><g filter="url(#bl0_9)"><rect x="288.50" y="227.20" width="11.80" height="3.00" rx="1.50" fill="#0f0f0f"/><rect x="304.70" y="227.20" width="11.80" height="3.00" rx="1.50" fill="#0f0f0f"/><rect x="319.00" y="227.20" width="11.80" height="3.00" rx="1.50" fill="#141414"/><rect x="333.50" y="227.20" width="11.80" height="3.00" rx="1.50" fill="#141414"/></g><g><rect x="290.00" y="228.15" width="8.80" height="1.10" rx="0.55" fill="#0f0f0f"/><rect x="306.20" y="228.15" width="8.80" height="1.10" rx="0.55" fill="#0f0f0f"/><rect x="320.50" y="228.15" width="8.80" height="1.10" rx="0.55" fill="#141414"/><rect x="335.00" y="228.15" width="8.80" height="1.10" rx="0.55" fill="#141414"/></g></g><rect x="286.65" y="223.65" width="60.70" height="9.70" fill="none" stroke="#1a1a1a" stroke-width="1.3"/><clipPath id="c59"><rect x="286" y="236" width="62" height="11"/></clipPath><g clip-path="url(#c59)"><rect x="286" y="236" width="62" height="11" fill="#8c8c8c"/><g filter="url(#bl0_9)"><rect x="288.50" y="238.15" width="11.80" height="6.30" rx="2.00" fill="#282828"/><rect x="304.70" y="238.15" width="11.80" height="6.30" rx="2.00" fill="#232323"/><rect x="319.00" y="238.15" width="11.80" height="6.30" rx="2.00" fill="#282828"/><rect x="333.50" y="238.15" width="11.80" height="6.30" rx="2.00" fill="#323232"/></g><g><rect x="290.00" y="239.93" width="8.80" height="2.75" rx="1.38" fill="#282828"/><rect x="306.20" y="239.93" width="8.80" height="2.75" rx="1.38" fill="#232323"/><rect x="320.50" y="239.93" width="8.80" height="2.75" rx="1.38" fill="#282828"/><rect x="335.00" y="239.93" width="8.80" height="2.75" rx="1.38" fill="#323232"/></g></g><rect x="286.65" y="236.65" width="60.70" height="9.70" fill="none" stroke="#1a1a1a" stroke-width="1.3"/><clipPath id="c60"><rect x="286" y="248" width="62" height="11"/></clipPath><g clip-path="url(#c60)"><rect x="286" y="248" width="62" height="11" fill="#c3c3c3"/><g filter="url(#bl0_9)"><rect x="288.50" y="251.65" width="11.80" height="3.30" rx="1.65" fill="#141414"/><rect x="304.70" y="251.65" width="11.80" height="3.30" rx="1.65" fill="#141414"/><rect x="319.00" y="251.65" width="11.80" height="3.30" rx="1.65" fill="#141414"/><rect x="333.50" y="251.65" width="11.80" height="3.30" rx="1.65" fill="#141414"/></g><g><rect x="290.00" y="252.68" width="8.80" height="1.25" rx="0.62" fill="#141414"/><rect x="306.20" y="252.68" width="8.80" height="1.25" rx="0.62" fill="#141414"/><rect x="320.50" y="252.68" width="8.80" height="1.25" rx="0.62" fill="#141414"/><rect x="335.00" y="252.68" width="8.80" height="1.25" rx="0.62" fill="#141414"/></g></g><rect x="286.65" y="248.65" width="60.70" height="9.70" fill="none" stroke="#1a1a1a" stroke-width="1.3"/><text x="6.6" y="283.6" font-size="10.4" text-anchor="start" fill="#111" font-weight="bold" stroke="#111" stroke-width="0.14">D</text><text x="109" y="292" font-size="6" text-anchor="middle" fill="#1c1c1c" font-weight="normal" stroke="#1c1c1c" stroke-width="0.14">MMP2</text><line x1="70.5" y1="296.1" x2="147.5" y2="296.1" stroke="#222" stroke-width="0.8"/><line x1="76.9" y1="302.2" x2="80.1" y2="302.2" stroke="#2a2a2a" stroke-width="0.85"/><line x1="76.9" y1="312.2" x2="80.1" y2="312.2" stroke="#2a2a2a" stroke-width="0.85"/><line x1="76.9" y1="322" x2="80.1" y2="322" stroke="#2a2a2a" stroke-width="0.85"/><line x1="97.4" y1="302.2" x2="100.6" y2="302.2" stroke="#2a2a2a" stroke-width="0.85"/><line x1="99" y1="300.6" x2="99" y2="303.8" stroke="#2a2a2a" stroke-width="0.85"/><line x1="97.4" y1="312.2" x2="100.6" y2="312.2" stroke="#2a2a2a" stroke-width="0.85"/><line x1="97.4" y1="322" x2="100.6" y2="322" stroke="#2a2a2a" stroke-width="0.85"/><line x1="117.4" y1="302.2" x2="120.6" y2="302.2" stroke="#2a2a2a" stroke-width="0.85"/><line x1="119" y1="300.6" x2="119" y2="303.8" stroke="#2a2a2a" stroke-width="0.85"/><line x1="117.4" y1="312.2" x2="120.6" y2="312.2" stroke="#2a2a2a" stroke-width="0.85"/><line x1="119" y1="310.6" x2="119" y2="313.8" stroke="#2a2a2a" stroke-width="0.85"/><line x1="117.4" y1="322" x2="120.6" y2="322" stroke="#2a2a2a" stroke-width="0.85"/><line x1="137.4" y1="302.2" x2="140.6" y2="302.2" stroke="#2a2a2a" stroke-width="0.85"/><line x1="139" y1="300.6" x2="139" y2="303.8" stroke="#2a2a2a" stroke-width="0.85"/><line x1="137.4" y1="312.2" x2="140.6" y2="312.2" stroke="#2a2a2a" stroke-width="0.85"/><line x1="137.4" y1="322" x2="140.6" y2="322" stroke="#2a2a2a" stroke-width="0.85"/><line x1="139" y1="320.4" x2="139" y2="323.6" stroke="#2a2a2a" stroke-width="0.85"/><text x="191" y="292" font-size="6" text-anchor="middle" fill="#1c1c1c" font-weight="normal" stroke="#1c1c1c" stroke-width="0.14">MMP9</text><line x1="152.5" y1="296.1" x2="229.4" y2="296.1" stroke="#222" stroke-width="0.8"/><line x1="161.4" y1="302.2" x2="164.6" y2="302.2" stroke="#2a2a2a" stroke-width="0.85"/><line x1="161.4" y1="312.2" x2="164.6" y2="312.2" stroke="#2a2a2a" stroke-width="0.85"/><line x1="161.4" y1="322" x2="164.6" y2="322" stroke="#2a2a2a" stroke-width="0.85"/><line x1="182.6" y1="302.2" x2="185.8" y2="302.2" stroke="#2a2a2a" stroke-width="0.85"/><line x1="184.2" y1="300.6" x2="184.2" y2="303.8" stroke="#2a2a2a" stroke-width="0.85"/><line x1="182.6" y1="312.2" x2="185.8" y2="312.2" stroke="#2a2a2a" stroke-width="0.85"/><line x1="182.6" y1="322" x2="185.8" y2="322" stroke="#2a2a2a" stroke-width="0.85"/><line x1="202.8" y1="302.2" x2="206" y2="302.2" stroke="#2a2a2a" stroke-width="0.85"/><line x1="204.4" y1="300.6" x2="204.4" y2="303.8" stroke="#2a2a2a" stroke-width="0.85"/><line x1="202.8" y1="312.2" x2="206" y2="312.2" stroke="#2a2a2a" stroke-width="0.85"/><line x1="204.4" y1="310.6" x2="204.4" y2="313.8" stroke="#2a2a2a" stroke-width="0.85"/><line x1="202.8" y1="322" x2="206" y2="322" stroke="#2a2a2a" stroke-width="0.85"/><line x1="223" y1="302.2" x2="226.2" y2="302.2" stroke="#2a2a2a" stroke-width="0.85"/><line x1="224.6" y1="300.6" x2="224.6" y2="303.8" stroke="#2a2a2a" stroke-width="0.85"/><line x1="223" y1="312.2" x2="226.2" y2="312.2" stroke="#2a2a2a" stroke-width="0.85"/><line x1="223" y1="322" x2="226.2" y2="322" stroke="#2a2a2a" stroke-width="0.85"/><line x1="224.6" y1="320.4" x2="224.6" y2="323.6" stroke="#2a2a2a" stroke-width="0.85"/><text x="18" y="304.2" font-size="6" text-anchor="start" fill="#1c1c1c" font-weight="normal" stroke="#1c1c1c" stroke-width="0.14">THs</text><text x="18" y="314.2" font-size="6" text-anchor="start" fill="#1c1c1c" font-weight="normal" stroke="#1c1c1c" stroke-width="0.14">Cile</text><text x="18" y="324" font-size="6" text-anchor="start" fill="#1c1c1c" font-weight="normal" textLength="46.2" lengthAdjust="spacingAndGlyphs" stroke="#1c1c1c" stroke-width="0.14">Cryptotanshinone</text><text x="63.7" y="342.54999999999995" font-size="6" text-anchor="end" fill="#1c1c1c" font-weight="normal" stroke="#1c1c1c" stroke-width="0.14">CUTLL1</text><text x="63.7" y="366.75" font-size="6" text-anchor="end" fill="#1c1c1c" font-weight="normal" stroke="#1c1c1c" stroke-width="0.14">OCI-LY13.2</text><text x="63.7" y="390.75" font-size="6" text-anchor="end" fill="#1c1c1c" font-weight="normal" stroke="#1c1c1c" stroke-width="0.14">OCI-LY12</text><text x="63.7" y="414.84999999999997" font-size="6" text-anchor="end" fill="#1c1c1c" font-weight="normal" stroke="#1c1c1c" stroke-width="0.14">EL4</text><clipPath id="c61"><rect x="67" y="329" width="83" height="22"/></clipPath><g clip-path="url(#c61)"><rect x="67" y="329" width="83" height="22" fill="#383838"/><g filter="url(#bl1_4)"><rect x="69.10" y="337.80" width="15.80" height="4.40" rx="2.00" fill="#8c8c8c"/><rect x="89.60" y="337.80" width="15.80" height="4.40" rx="2.00" fill="#b4b4b4"/><rect x="110.60" y="337.80" width="15.80" height="4.40" rx="2.00" fill="#969696"/><rect x="130.60" y="337.80" width="15.80" height="4.40" rx="2.00" fill="#878787"/></g><g><rect x="71.00" y="339.10" width="12.00" height="1.80" rx="0.90" fill="#8c8c8c"/><rect x="91.50" y="339.10" width="12.00" height="1.80" rx="0.90" fill="#b4b4b4"/><rect x="112.50" y="339.10" width="12.00" height="1.80" rx="0.90" fill="#969696"/><rect x="132.50" y="339.10" width="12.00" height="1.80" rx="0.90" fill="#878787"/></g></g><rect x="67.25" y="329.25" width="82.50" height="21.50" fill="none" stroke="#111" stroke-width="0.5"/><clipPath id="c62"><rect x="67" y="353" width="83" height="22"/></clipPath><g clip-path="url(#c62)"><rect x="67" y="353" width="83" height="22" fill="#0e0e0e"/><g filter="url(#bl1_4)"><rect x="69.35" y="362.70" width="15.30" height="3.80" rx="1.90" fill="#969696"/><rect x="89.85" y="362.70" width="15.30" height="3.80" rx="1.90" fill="#c3c3c3"/><rect x="110.85" y="362.70" width="15.30" height="3.80" rx="1.90" fill="#505050"/><rect x="130.85" y="362.70" width="15.30" height="3.80" rx="1.90" fill="#414141"/></g><g><rect x="71.20" y="363.85" width="11.60" height="1.50" rx="0.75" fill="#969696"/><rect x="91.70" y="363.85" width="11.60" height="1.50" rx="0.75" fill="#c3c3c3"/><rect x="112.70" y="363.85" width="11.60" height="1.50" rx="0.75" fill="#505050"/><rect x="132.70" y="363.85" width="11.60" height="1.50" rx="0.75" fill="#414141"/></g></g><rect x="67.25" y="353.25" width="82.50" height="21.50" fill="none" stroke="#111" stroke-width="0.5"/><clipPath id="c63"><rect x="67" y="377" width="83" height="23"/></clipPath><g clip-path="url(#c63)"><rect x="67" y="377" width="83" height="23" fill="#545454"/><g filter="url(#bl1_4)"><rect x="69.10" y="386.20" width="15.80" height="4.80" rx="2.00" fill="#969696"/><rect x="89.60" y="386.20" width="15.80" height="4.80" rx="2.00" fill="#9b9b9b"/><rect x="110.60" y="386.20" width="15.80" height="4.80" rx="2.00" fill="#aaaaaa"/><rect x="130.60" y="386.20" width="15.80" height="4.80" rx="2.00" fill="#aaaaaa"/></g><g><rect x="71.00" y="387.60" width="12.00" height="2.00" rx="1.00" fill="#969696"/><rect x="91.50" y="387.60" width="12.00" height="2.00" rx="1.00" fill="#9b9b9b"/><rect x="112.50" y="387.60" width="12.00" height="2.00" rx="1.00" fill="#aaaaaa"/><rect x="132.50" y="387.60" width="12.00" height="2.00" rx="1.00" fill="#aaaaaa"/></g></g><rect x="67.25" y="377.25" width="82.50" height="22.50" fill="none" stroke="#111" stroke-width="0.5"/><clipPath id="c64"><rect x="67" y="402" width="83" height="22"/></clipPath><g clip-path="url(#c64)"><rect x="67" y="402" width="83" height="22" fill="#262626"/><g filter="url(#bl1_4)"><rect x="69.35" y="410.40" width="15.30" height="4.60" rx="2.00" fill="#7d7d7d"/><rect x="89.85" y="410.40" width="15.30" height="4.60" rx="2.00" fill="#969696"/><rect x="110.85" y="410.40" width="15.30" height="4.60" rx="2.00" fill="#737373"/><rect x="130.85" y="410.40" width="15.30" height="4.60" rx="2.00" fill="#787878"/></g><g><rect x="71.20" y="411.75" width="11.60" height="1.90" rx="0.95" fill="#7d7d7d"/><rect x="91.70" y="411.75" width="11.60" height="1.90" rx="0.95" fill="#969696"/><rect x="112.70" y="411.75" width="11.60" height="1.90" rx="0.95" fill="#737373"/><rect x="132.70" y="411.75" width="11.60" height="1.90" rx="0.95" fill="#787878"/></g></g><rect x="67.25" y="402.25" width="82.50" height="21.50" fill="none" stroke="#111" stroke-width="0.5"/><clipPath id="c65"><rect x="151" y="329" width="84" height="22"/></clipPath><g clip-path="url(#c65)"><rect x="151" y="329" width="84" height="22" fill="#444444"/><g filter="url(#bl1_4)"><rect x="154.10" y="337.05" width="15.80" height="4.30" rx="2.00" fill="#696969"/><rect x="175.60" y="337.05" width="15.80" height="4.30" rx="2.00" fill="#787878"/><rect x="195.60" y="337.05" width="15.80" height="4.30" rx="2.00" fill="#707070"/><rect x="215.60" y="337.05" width="15.80" height="4.30" rx="2.00" fill="#767676"/></g><g><rect x="156.00" y="338.32" width="12.00" height="1.75" rx="0.88" fill="#696969"/><rect x="177.50" y="338.32" width="12.00" height="1.75" rx="0.88" fill="#787878"/><rect x="197.50" y="338.32" width="12.00" height="1.75" rx="0.88" fill="#707070"/><rect x="217.50" y="338.32" width="12.00" height="1.75" rx="0.88" fill="#767676"/></g></g><rect x="151.25" y="329.25" width="83.50" height="21.50" fill="none" stroke="#111" stroke-width="0.5"/><clipPath id="c66"><rect x="151" y="353" width="84" height="22"/></clipPath><g clip-path="url(#c66)"><rect x="151" y="353" width="84" height="22" fill="#0e0e0e"/><ellipse cx="157" cy="362" rx="6" ry="7" fill="#505050" filter="url(#bl2_5)"/><ellipse cx="182" cy="361.5" rx="5.5" ry="7.5" fill="#737373" filter="url(#bl2_5)"/><g filter="url(#bl1_4)"><rect x="154.60" y="363.95" width="14.80" height="3.30" rx="1.65" fill="#646464"/><rect x="176.10" y="363.95" width="14.80" height="3.30" rx="1.65" fill="#969696"/><rect x="196.10" y="363.95" width="14.80" height="3.30" rx="1.65" fill="#373737"/><rect x="216.10" y="363.95" width="14.80" height="3.30" rx="1.65" fill="#3c3c3c"/></g><g><rect x="156.40" y="364.98" width="11.20" height="1.25" rx="0.62" fill="#646464"/><rect x="177.90" y="364.98" width="11.20" height="1.25" rx="0.62" fill="#969696"/><rect x="197.90" y="364.98" width="11.20" height="1.25" rx="0.62" fill="#373737"/><rect x="217.90" y="364.98" width="11.20" height="1.25" rx="0.62" fill="#3c3c3c"/></g></g><rect x="151.25" y="353.25" width="83.50" height="21.50" fill="none" stroke="#111" stroke-width="0.5"/><clipPath id="c67"><rect x="151" y="377" width="84" height="23"/></clipPath><g clip-path="url(#c67)"><rect x="151" y="377" width="84" height="23" fill="#525252"/><g filter="url(#bl1_4)"><rect x="154.10" y="386.40" width="15.80" height="4.80" rx="2.00" fill="#737373"/><rect x="175.60" y="386.40" width="15.80" height="4.80" rx="2.00" fill="#737373"/><rect x="195.60" y="386.40" width="15.80" height="4.80" rx="2.00" fill="#828282"/><rect x="215.60" y="386.40" width="15.80" height="4.80" rx="2.00" fill="#878787"/></g><g><rect x="156.00" y="387.80" width="12.00" height="2.00" rx="1.00" fill="#737373"/><rect x="177.50" y="387.80" width="12.00" height="2.00" rx="1.00" fill="#737373"/><rect x="197.50" y="387.80" width="12.00" height="2.00" rx="1.00" fill="#828282"/><rect x="217.50" y="387.80" width="12.00" height="2.00" rx="1.00" fill="#878787"/></g></g><rect x="151.25" y="377.25" width="83.50" height="22.50" fill="none" stroke="#111" stroke-width="0.5"/><clipPath id="c68"><rect x="151" y="402" width="84" height="22"/></clipPath><g clip-path="url(#c68)"><rect x="151" y="402" width="84" height="22" fill="#262626"/><g filter="url(#bl1_4)"><rect x="154.85" y="410.40" width="14.30" height="4.60" rx="2.00" fill="#cdcdcd"/><rect x="176.35" y="410.40" width="14.30" height="4.60" rx="2.00" fill="#dcdcdc"/><rect x="196.35" y="410.40" width="14.30" height="4.60" rx="2.00" fill="#a0a0a0"/><rect x="216.35" y="410.40" width="14.30" height="4.60" rx="2.00" fill="#b9b9b9"/></g><g><rect x="156.60" y="411.75" width="10.80" height="1.90" rx="0.95" fill="#cdcdcd"/><rect x="178.10" y="411.75" width="10.80" height="1.90" rx="0.95" fill="#dcdcdc"/><rect x="198.10" y="411.75" width="10.80" height="1.90" rx="0.95" fill="#a0a0a0"/><rect x="218.10" y="411.75" width="10.80" height="1.90" rx="0.95" fill="#b9b9b9"/></g></g><rect x="151.25" y="402.25" width="83.50" height="21.50" fill="none" stroke="#111" stroke-width="0.5"/><text x="365.8" y="16.3" font-size="10.4" text-anchor="start" fill="#111" font-weight="bold" stroke="#111" stroke-width="0.14">C</text><line x1="386.9" y1="31.5" x2="386.9" y2="102" stroke="#484848" stroke-width="1.5"/><line x1="383.2" y1="101.5" x2="386.9" y2="101.5" stroke="#484848" stroke-width="0.9"/><text x="380" y="103.7" font-size="6.2" text-anchor="end" fill="#3a3a3a" font-weight="normal" stroke="#3a3a3a" stroke-width="0.15">0</text><line x1="383.2" y1="84.3" x2="386.9" y2="84.3" stroke="#484848" stroke-width="0.9"/><text x="380" y="86.5" font-size="6.2" text-anchor="end" fill="#3a3a3a" font-weight="normal" stroke="#3a3a3a" stroke-width="0.15">1</text><line x1="383.2" y1="67.1" x2="386.9" y2="67.1" stroke="#484848" stroke-width="0.9"/><text x="380" y="69.3" font-size="6.2" text-anchor="end" fill="#3a3a3a" font-weight="normal" stroke="#3a3a3a" stroke-width="0.15">2</text><line x1="383.2" y1="49.9" x2="386.9" y2="49.9" stroke="#484848" stroke-width="0.9"/><text x="380" y="52.10000000000001" font-size="6.2" text-anchor="end" fill="#3a3a3a" font-weight="normal" stroke="#3a3a3a" stroke-width="0.15">3</text><line x1="383.2" y1="32.7" x2="386.9" y2="32.7" stroke="#484848" stroke-width="0.9"/><text x="380" y="34.900000000000006" font-size="6.2" text-anchor="end" fill="#3a3a3a" font-weight="normal" stroke="#3a3a3a" stroke-width="0.15">4</text><text transform="translate(371.6,65.1) rotate(-90)" font-size="6.1" text-anchor="middle" fill="#222" stroke="#222" stroke-width="0.28" textLength="59.5" lengthAdjust="spacingAndGlyphs">mRNA levels to <tspan font-style="italic">RPL13a</tspan></text><line x1="391" y1="55.23" x2="391" y2="63.32" stroke="#9a9a9a" stroke-width="1.1"/><line x1="389.8" y1="55.23" x2="392.2" y2="55.23" stroke="#555" stroke-width="0.8"/><rect x="389.00" y="63.32" width="4.0" height="38.18" fill="#ef911b"/><text x="391.00" y="54.63" font-size="4.6" text-anchor="middle" fill="#1c1c1c" font-weight="normal" stroke="#1c1c1c" stroke-width="0.2">**</text><line x1="397.45" y1="85.5" x2="397.45" y2="89.29" stroke="#9a9a9a" stroke-width="1.1"/><line x1="396.25" y1="85.5" x2="398.65" y2="85.5" stroke="#555" stroke-width="0.8"/><rect x="395.45" y="89.29" width="4.0" height="12.21" fill="#36a636"/><text x="397.45" y="84.90" font-size="4.6" text-anchor="middle" fill="#1c1c1c" font-weight="normal" stroke="#1c1c1c" stroke-width="0.2">##</text><line x1="403.9" y1="77.08" x2="403.9" y2="83.61" stroke="#9a9a9a" stroke-width="1.1"/><line x1="402.7" y1="77.08" x2="405.1" y2="77.08" stroke="#555" stroke-width="0.8"/><rect x="401.90" y="83.61" width="4.0" height="17.89" fill="#e1127d"/><text x="403.90" y="76.48" font-size="4.6" text-anchor="middle" fill="#1c1c1c" font-weight="normal" stroke="#1c1c1c" stroke-width="0.2">#</text><line x1="397.45" y1="101.5" x2="397.45" y2="104.5" stroke="#2a2a2a" stroke-width="0.8"/><text transform="translate(401.4,110.8) rotate(-45)" font-size="6.1" text-anchor="end" fill="#1c1c1c" stroke="#1c1c1c" stroke-width="0.1">MMP2</text><line x1="413.8" y1="67.62" x2="413.8" y2="80.52" stroke="#9a9a9a" stroke-width="1.1"/><line x1="412.6" y1="67.62" x2="415" y2="67.62" stroke="#555" stroke-width="0.8"/><rect x="411.80" y="80.52" width="4.0" height="20.98" fill="#ef911b"/><line x1="420.25" y1="84.99" x2="420.25" y2="86.54" stroke="#9a9a9a" stroke-width="1.1"/><line x1="419.05" y1="84.99" x2="421.45" y2="84.99" stroke="#555" stroke-width="0.8"/><rect x="418.25" y="86.54" width="4.0" height="14.96" fill="#36a636"/><text x="420.25" y="84.39" font-size="4.6" text-anchor="middle" fill="#1c1c1c" font-weight="normal" stroke="#1c1c1c" stroke-width="0.2">*</text><line x1="426.7" y1="90.84" x2="426.7" y2="93.07" stroke="#9a9a9a" stroke-width="1.1"/><line x1="425.5" y1="90.84" x2="427.9" y2="90.84" stroke="#555" stroke-width="0.8"/><rect x="424.70" y="93.07" width="4.0" height="8.43" fill="#e1127d"/><line x1="420.25" y1="101.5" x2="420.25" y2="104.5" stroke="#2a2a2a" stroke-width="0.8"/><text transform="translate(424.2,110.8) rotate(-45)" font-size="6.1" text-anchor="end" fill="#1c1c1c" stroke="#1c1c1c" stroke-width="0.1">MMP9</text><line x1="436.7" y1="50.07" x2="436.7" y2="66.07" stroke="#9a9a9a" stroke-width="1.1"/><line x1="435.5" y1="50.07" x2="437.9" y2="50.07" stroke="#555" stroke-width="0.8"/><rect x="434.70" y="66.07" width="4.0" height="35.43" fill="#ef911b"/><text x="436.70" y="49.47" font-size="4.6" text-anchor="middle" fill="#1c1c1c" font-weight="normal" stroke="#1c1c1c" stroke-width="0.2">**</text><line x1="443.15" y1="79.48" x2="443.15" y2="86.54" stroke="#9a9a9a" stroke-width="1.1"/><line x1="441.95" y1="79.48" x2="444.35" y2="79.48" stroke="#555" stroke-width="0.8"/><rect x="441.15" y="86.54" width="4.0" height="14.96" fill="#36a636"/><text x="443.15" y="78.88" font-size="4.6" text-anchor="middle" fill="#1c1c1c" font-weight="normal" stroke="#1c1c1c" stroke-width="0.2">##</text><line x1="449.6" y1="76.56" x2="449.6" y2="83.27" stroke="#9a9a9a" stroke-width="1.1"/><line x1="448.4" y1="76.56" x2="450.8" y2="76.56" stroke="#555" stroke-width="0.8"/><rect x="447.60" y="83.27" width="4.0" height="18.23" fill="#e1127d"/><text x="449.60" y="75.96" font-size="4.6" text-anchor="middle" fill="#1c1c1c" font-weight="normal" stroke="#1c1c1c" stroke-width="0.2">#</text><line x1="443.15" y1="101.5" x2="443.15" y2="104.5" stroke="#2a2a2a" stroke-width="0.8"/><text transform="translate(447.1,110.8) rotate(-45)" font-size="6.1" text-anchor="end" fill="#1c1c1c" stroke="#1c1c1c" stroke-width="0.1">GATA3</text><line x1="459.6" y1="49.21" x2="459.6" y2="66.07" stroke="#9a9a9a" stroke-width="1.1"/><line x1="458.4" y1="49.21" x2="460.8" y2="49.21" stroke="#555" stroke-width="0.8"/><rect x="457.60" y="66.07" width="4.0" height="35.43" fill="#ef911b"/><text x="459.60" y="48.61" font-size="4.6" text-anchor="middle" fill="#1c1c1c" font-weight="normal" stroke="#1c1c1c" stroke-width="0.2">*</text><line x1="466.05" y1="82.92" x2="466.05" y2="87.22" stroke="#9a9a9a" stroke-width="1.1"/><line x1="464.85" y1="82.92" x2="467.25" y2="82.92" stroke="#555" stroke-width="0.8"/><rect x="464.05" y="87.22" width="4.0" height="14.28" fill="#36a636"/><text x="466.05" y="82.32" font-size="4.6" text-anchor="middle" fill="#1c1c1c" font-weight="normal" stroke="#1c1c1c" stroke-width="0.2">#</text><line x1="472.5" y1="76.04" x2="472.5" y2="83.44" stroke="#9a9a9a" stroke-width="1.1"/><line x1="471.3" y1="76.04" x2="473.7" y2="76.04" stroke="#555" stroke-width="0.8"/><rect x="470.50" y="83.44" width="4.0" height="18.06" fill="#e1127d"/><text x="472.50" y="75.44" font-size="4.6" text-anchor="middle" fill="#1c1c1c" font-weight="normal" stroke="#1c1c1c" stroke-width="0.2">#</text><line x1="466.05" y1="101.5" x2="466.05" y2="104.5" stroke="#2a2a2a" stroke-width="0.8"/><text transform="translate(470.1,110.8) rotate(-45)" font-size="6.1" text-anchor="end" fill="#1c1c1c" stroke="#1c1c1c" stroke-width="0.1">CCND1</text><line x1="482.4" y1="66.24" x2="482.4" y2="74.32" stroke="#9a9a9a" stroke-width="1.1"/><line x1="481.2" y1="66.24" x2="483.6" y2="66.24" stroke="#555" stroke-width="0.8"/><rect x="480.40" y="74.32" width="4.0" height="27.18" fill="#ef911b"/><text x="482.40" y="65.64" font-size="4.6" text-anchor="middle" fill="#1c1c1c" font-weight="normal" stroke="#1c1c1c" stroke-width="0.2">*</text><line x1="488.85" y1="85.5" x2="488.85" y2="89.46" stroke="#9a9a9a" stroke-width="1.1"/><line x1="487.65" y1="85.5" x2="490.05" y2="85.5" stroke="#555" stroke-width="0.8"/><rect x="486.85" y="89.46" width="4.0" height="12.04" fill="#36a636"/><text x="488.85" y="84.90" font-size="4.6" text-anchor="middle" fill="#1c1c1c" font-weight="normal" stroke="#1c1c1c" stroke-width="0.2">##</text><line x1="495.3" y1="85.16" x2="495.3" y2="88.77" stroke="#9a9a9a" stroke-width="1.1"/><line x1="494.1" y1="85.16" x2="496.5" y2="85.16" stroke="#555" stroke-width="0.8"/><rect x="493.30" y="88.77" width="4.0" height="12.73" fill="#e1127d"/><text x="495.30" y="84.56" font-size="4.6" text-anchor="middle" fill="#1c1c1c" font-weight="normal" stroke="#1c1c1c" stroke-width="0.2">#</text><line x1="488.85" y1="101.5" x2="488.85" y2="104.5" stroke="#2a2a2a" stroke-width="0.8"/><text transform="translate(492.8,110.8) rotate(-45)" font-size="6.1" text-anchor="end" fill="#1c1c1c" stroke="#1c1c1c" stroke-width="0.1">CCR4</text><line x1="384" y1="101.8" x2="500" y2="101.8" stroke="#333" stroke-width="1.4"/><line x1="388" y1="84.3" x2="500" y2="84.3" stroke="#555" stroke-width="0.8" stroke-dasharray="1.6,2.2"/><text x="504.2" y="86.5" font-size="6" text-anchor="start" fill="#555" font-weight="normal" stroke="#555" stroke-width="0.05">Veh</text><text x="443.4" y="26" font-size="7.9" text-anchor="middle" fill="#1c1c1c" font-weight="normal" stroke="#1c1c1c" stroke-width="0.14">CUTLL1</text><line x1="386.9" y1="149.75" x2="386.9" y2="224.8" stroke="#484848" stroke-width="1.5"/><line x1="383.2" y1="224.3" x2="386.9" y2="224.3" stroke="#484848" stroke-width="0.9"/><text x="380" y="226.5" font-size="6.2" text-anchor="end" fill="#3a3a3a" font-weight="normal" stroke="#3a3a3a" stroke-width="0.15">0</text><line x1="383.2" y1="199.85" x2="386.9" y2="199.85" stroke="#484848" stroke-width="0.9"/><text x="380" y="202.05" font-size="6.2" text-anchor="end" fill="#3a3a3a" font-weight="normal" stroke="#3a3a3a" stroke-width="0.15">1</text><line x1="383.2" y1="175.4" x2="386.9" y2="175.4" stroke="#484848" stroke-width="0.9"/><text x="380" y="177.6" font-size="6.2" text-anchor="end" fill="#3a3a3a" font-weight="normal" stroke="#3a3a3a" stroke-width="0.15">2</text><line x1="383.2" y1="150.95" x2="386.9" y2="150.95" stroke="#484848" stroke-width="0.9"/><text x="380" y="153.15" font-size="6.2" text-anchor="end" fill="#3a3a3a" font-weight="normal" stroke="#3a3a3a" stroke-width="0.15">3</text><text transform="translate(370.6,185.6) rotate(-90)" font-size="6.1" text-anchor="middle" fill="#222" stroke="#222" stroke-width="0.28" textLength="59.5" lengthAdjust="spacingAndGlyphs">mRNA levels to <tspan font-style="italic">RPL13a</tspan></text><line x1="391" y1="178.82" x2="391" y2="182.98" stroke="#9a9a9a" stroke-width="1.1"/><line x1="389.8" y1="178.82" x2="392.2" y2="178.82" stroke="#555" stroke-width="0.8"/><rect x="389.00" y="182.98" width="4.0" height="41.32" fill="#ef911b"/><text x="391.00" y="178.22" font-size="4.6" text-anchor="middle" fill="#1c1c1c" font-weight="normal" stroke="#1c1c1c" stroke-width="0.2">*</text><line x1="397.45" y1="201.07" x2="397.45" y2="207.19" stroke="#9a9a9a" stroke-width="1.1"/><line x1="396.25" y1="201.07" x2="398.65" y2="201.07" stroke="#555" stroke-width="0.8"/><rect x="395.45" y="207.19" width="4.0" height="17.11" fill="#36a636"/><text x="397.45" y="200.47" font-size="4.6" text-anchor="middle" fill="#1c1c1c" font-weight="normal" stroke="#1c1c1c" stroke-width="0.2">#</text><line x1="403.9" y1="193.25" x2="403.9" y2="207.67" stroke="#9a9a9a" stroke-width="1.1"/><line x1="402.7" y1="193.25" x2="405.1" y2="193.25" stroke="#555" stroke-width="0.8"/><rect x="401.90" y="207.67" width="4.0" height="16.63" fill="#e1127d"/><text x="403.90" y="192.65" font-size="4.6" text-anchor="middle" fill="#1c1c1c" font-weight="normal" stroke="#1c1c1c" stroke-width="0.2">#</text><line x1="397.45" y1="224.3" x2="397.45" y2="227.3" stroke="#2a2a2a" stroke-width="0.8"/><text transform="translate(401.4,233.6) rotate(-45)" font-size="6.1" text-anchor="end" fill="#1c1c1c" stroke="#1c1c1c" stroke-width="0.1">MMP2</text><line x1="413.8" y1="160.49" x2="413.8" y2="174.67" stroke="#9a9a9a" stroke-width="1.1"/><line x1="412.6" y1="160.49" x2="415" y2="160.49" stroke="#555" stroke-width="0.8"/><rect x="411.80" y="174.67" width="4.0" height="49.63" fill="#ef911b"/><text x="413.80" y="159.89" font-size="4.6" text-anchor="middle" fill="#1c1c1c" font-weight="normal" stroke="#1c1c1c" stroke-width="0.2">*</text><line x1="420.25" y1="207.92" x2="420.25" y2="211.1" stroke="#9a9a9a" stroke-width="1.1"/><line x1="419.05" y1="207.92" x2="421.45" y2="207.92" stroke="#555" stroke-width="0.8"/><rect x="418.25" y="211.10" width="4.0" height="13.20" fill="#36a636"/><text x="420.25" y="207.32" font-size="4.6" text-anchor="middle" fill="#1c1c1c" font-weight="normal" stroke="#1c1c1c" stroke-width="0.2">##</text><line x1="426.7" y1="204.74" x2="426.7" y2="205.47" stroke="#9a9a9a" stroke-width="1.1"/><line x1="425.5" y1="204.74" x2="427.9" y2="204.74" stroke="#555" stroke-width="0.8"/><rect x="424.70" y="205.47" width="4.0" height="18.83" fill="#e1127d"/><text x="426.70" y="204.14" font-size="4.6" text-anchor="middle" fill="#1c1c1c" font-weight="normal" stroke="#1c1c1c" stroke-width="0.2">#</text><line x1="420.25" y1="224.3" x2="420.25" y2="227.3" stroke="#2a2a2a" stroke-width="0.8"/><text transform="translate(424.2,233.6) rotate(-45)" font-size="6.1" text-anchor="end" fill="#1c1c1c" stroke="#1c1c1c" stroke-width="0.1">MMP9</text><line x1="436.7" y1="178.33" x2="436.7" y2="180.78" stroke="#9a9a9a" stroke-width="1.1"/><line x1="435.5" y1="178.33" x2="437.9" y2="178.33" stroke="#555" stroke-width="0.8"/><rect x="434.70" y="180.78" width="4.0" height="43.52" fill="#ef911b"/><text x="436.70" y="177.73" font-size="4.6" text-anchor="middle" fill="#1c1c1c" font-weight="normal" stroke="#1c1c1c" stroke-width="0.2">*</text><line x1="443.15" y1="200.09" x2="443.15" y2="210.36" stroke="#9a9a9a" stroke-width="1.1"/><line x1="441.95" y1="200.09" x2="444.35" y2="200.09" stroke="#555" stroke-width="0.8"/><rect x="441.15" y="210.36" width="4.0" height="13.94" fill="#36a636"/><text x="443.15" y="199.49" font-size="4.6" text-anchor="middle" fill="#1c1c1c" font-weight="normal" stroke="#1c1c1c" stroke-width="0.2">###</text><line x1="449.6" y1="205.96" x2="449.6" y2="211.83" stroke="#9a9a9a" stroke-width="1.1"/><line x1="448.4" y1="205.96" x2="450.8" y2="205.96" stroke="#555" stroke-width="0.8"/><rect x="447.60" y="211.83" width="4.0" height="12.47" fill="#e1127d"/><text x="449.60" y="205.36" font-size="4.6" text-anchor="middle" fill="#1c1c1c" font-weight="normal" stroke="#1c1c1c" stroke-width="0.2">###</text><line x1="443.15" y1="224.3" x2="443.15" y2="227.3" stroke="#2a2a2a" stroke-width="0.8"/><text transform="translate(447.1,233.6) rotate(-45)" font-size="6.1" text-anchor="end" fill="#1c1c1c" stroke="#1c1c1c" stroke-width="0.1">GATA3</text><line x1="459.6" y1="171.98" x2="459.6" y2="182" stroke="#9a9a9a" stroke-width="1.1"/><line x1="458.4" y1="171.98" x2="460.8" y2="171.98" stroke="#555" stroke-width="0.8"/><rect x="457.60" y="182.00" width="4.0" height="42.30" fill="#ef911b"/><text x="459.60" y="171.38" font-size="4.6" text-anchor="middle" fill="#1c1c1c" font-weight="normal" stroke="#1c1c1c" stroke-width="0.2">*</text><line x1="466.05" y1="211.1" x2="466.05" y2="215.74" stroke="#9a9a9a" stroke-width="1.1"/><line x1="464.85" y1="211.1" x2="467.25" y2="211.1" stroke="#555" stroke-width="0.8"/><rect x="464.05" y="215.74" width="4.0" height="8.56" fill="#36a636"/><text x="466.05" y="210.50" font-size="4.6" text-anchor="middle" fill="#1c1c1c" font-weight="normal" stroke="#1c1c1c" stroke-width="0.2">##</text><line x1="472.5" y1="207.92" x2="472.5" y2="212.81" stroke="#9a9a9a" stroke-width="1.1"/><line x1="471.3" y1="207.92" x2="473.7" y2="207.92" stroke="#555" stroke-width="0.8"/><rect x="470.50" y="212.81" width="4.0" height="11.49" fill="#e1127d"/><text x="472.50" y="207.32" font-size="4.6" text-anchor="middle" fill="#1c1c1c" font-weight="normal" stroke="#1c1c1c" stroke-width="0.2">##</text><line x1="466.05" y1="224.3" x2="466.05" y2="227.3" stroke="#2a2a2a" stroke-width="0.8"/><text transform="translate(470.1,233.6) rotate(-45)" font-size="6.1" text-anchor="end" fill="#1c1c1c" stroke="#1c1c1c" stroke-width="0.1">CCND1</text><line x1="482.4" y1="173.69" x2="482.4" y2="179.8" stroke="#9a9a9a" stroke-width="1.1"/><line x1="481.2" y1="173.69" x2="483.6" y2="173.69" stroke="#555" stroke-width="0.8"/><rect x="480.40" y="179.80" width="4.0" height="44.50" fill="#ef911b"/><text x="482.40" y="173.09" font-size="4.6" text-anchor="middle" fill="#1c1c1c" font-weight="normal" stroke="#1c1c1c" stroke-width="0.2">*</text><line x1="488.85" y1="203.03" x2="488.85" y2="212.81" stroke="#9a9a9a" stroke-width="1.1"/><line x1="487.65" y1="203.03" x2="490.05" y2="203.03" stroke="#555" stroke-width="0.8"/><rect x="486.85" y="212.81" width="4.0" height="11.49" fill="#36a636"/><text x="488.85" y="202.43" font-size="4.6" text-anchor="middle" fill="#1c1c1c" font-weight="normal" stroke="#1c1c1c" stroke-width="0.2">##</text><line x1="495.3" y1="200.09" x2="495.3" y2="209.14" stroke="#9a9a9a" stroke-width="1.1"/><line x1="494.1" y1="200.09" x2="496.5" y2="200.09" stroke="#555" stroke-width="0.8"/><rect x="493.30" y="209.14" width="4.0" height="15.16" fill="#e1127d"/><text x="495.30" y="199.49" font-size="4.6" text-anchor="middle" fill="#1c1c1c" font-weight="normal" stroke="#1c1c1c" stroke-width="0.2">##</text><line x1="488.85" y1="224.3" x2="488.85" y2="227.3" stroke="#2a2a2a" stroke-width="0.8"/><text transform="translate(492.8,233.6) rotate(-45)" font-size="6.1" text-anchor="end" fill="#1c1c1c" stroke="#1c1c1c" stroke-width="0.1">CCR4</text><line x1="384" y1="224.6" x2="500" y2="224.6" stroke="#333" stroke-width="1.4"/><line x1="388" y1="199.85" x2="500" y2="199.85" stroke="#555" stroke-width="0.8" stroke-dasharray="1.6,2.2"/><text x="504.2" y="202.05" font-size="6" text-anchor="start" fill="#555" font-weight="normal" stroke="#555" stroke-width="0.05">Veh</text><text x="443.4" y="143.8" font-size="7.9" text-anchor="middle" fill="#1c1c1c" font-weight="normal" stroke="#1c1c1c" stroke-width="0.14">OCI-LY13.2</text><line x1="386.9" y1="260.9" x2="386.9" y2="330.2" stroke="#484848" stroke-width="1.5"/><line x1="383.2" y1="329.7" x2="386.9" y2="329.7" stroke="#484848" stroke-width="0.9"/><text x="380" y="331.9" font-size="6.2" text-anchor="end" fill="#3a3a3a" font-weight="normal" stroke="#3a3a3a" stroke-width="0.15">0</text><line x1="383.2" y1="312.8" x2="386.9" y2="312.8" stroke="#484848" stroke-width="0.9"/><text x="380" y="315.0" font-size="6.2" text-anchor="end" fill="#3a3a3a" font-weight="normal" stroke="#3a3a3a" stroke-width="0.15">1</text><line x1="383.2" y1="295.9" x2="386.9" y2="295.9" stroke="#484848" stroke-width="0.9"/><text x="380" y="298.09999999999997" font-size="6.2" text-anchor="end" fill="#3a3a3a" font-weight="normal" stroke="#3a3a3a" stroke-width="0.15">2</text><line x1="383.2" y1="279" x2="386.9" y2="279" stroke="#484848" stroke-width="0.9"/><text x="380" y="281.2" font-size="6.2" text-anchor="end" fill="#3a3a3a" font-weight="normal" stroke="#3a3a3a" stroke-width="0.15">3</text><line x1="383.2" y1="262.1" x2="386.9" y2="262.1" stroke="#484848" stroke-width="0.9"/><text x="380" y="264.3" font-size="6.2" text-anchor="end" fill="#3a3a3a" font-weight="normal" stroke="#3a3a3a" stroke-width="0.15">4</text><text transform="translate(371.6,294.2) rotate(-90)" font-size="6.1" text-anchor="middle" fill="#222" stroke="#222" stroke-width="0.28" textLength="59.5" lengthAdjust="spacingAndGlyphs">mRNA levels to <tspan font-style="italic">RPL13a</tspan></text><line x1="391" y1="306.04" x2="391" y2="317.19" stroke="#9a9a9a" stroke-width="1.1"/><line x1="389.8" y1="306.04" x2="392.2" y2="306.04" stroke="#555" stroke-width="0.8"/><rect x="389.00" y="317.19" width="4.0" height="12.51" fill="#ef911b"/><line x1="397.45" y1="291.34" x2="397.45" y2="306.04" stroke="#9a9a9a" stroke-width="1.1"/><line x1="396.25" y1="291.34" x2="398.65" y2="291.34" stroke="#555" stroke-width="0.8"/><rect x="395.45" y="306.04" width="4.0" height="23.66" fill="#36a636"/><line x1="403.9" y1="315.17" x2="403.9" y2="315.5" stroke="#9a9a9a" stroke-width="1.1"/><line x1="402.7" y1="315.17" x2="405.1" y2="315.17" stroke="#555" stroke-width="0.8"/><rect x="401.90" y="315.50" width="4.0" height="14.20" fill="#e1127d"/><line x1="397.45" y1="329.7" x2="397.45" y2="332.7" stroke="#2a2a2a" stroke-width="0.8"/><text transform="translate(401.4,339.0) rotate(-45)" font-size="6.1" text-anchor="end" fill="#1c1c1c" stroke="#1c1c1c" stroke-width="0.1">MMP2</text><line x1="413.8" y1="275.62" x2="413.8" y2="289.31" stroke="#9a9a9a" stroke-width="1.1"/><line x1="412.6" y1="275.62" x2="415" y2="275.62" stroke="#555" stroke-width="0.8"/><rect x="411.80" y="289.31" width="4.0" height="40.39" fill="#ef911b"/><text x="413.80" y="275.02" font-size="4.6" text-anchor="middle" fill="#1c1c1c" font-weight="normal" stroke="#1c1c1c" stroke-width="0.2">**</text><line x1="420.25" y1="307.73" x2="420.25" y2="318.04" stroke="#9a9a9a" stroke-width="1.1"/><line x1="419.05" y1="307.73" x2="421.45" y2="307.73" stroke="#555" stroke-width="0.8"/><rect x="418.25" y="318.04" width="4.0" height="11.66" fill="#36a636"/><text x="420.25" y="307.13" font-size="4.6" text-anchor="middle" fill="#1c1c1c" font-weight="normal" stroke="#1c1c1c" stroke-width="0.2">###</text><line x1="426.7" y1="318.71" x2="426.7" y2="323.78" stroke="#9a9a9a" stroke-width="1.1"/><line x1="425.5" y1="318.71" x2="427.9" y2="318.71" stroke="#555" stroke-width="0.8"/><rect x="424.70" y="323.78" width="4.0" height="5.91" fill="#e1127d"/><text x="426.70" y="318.11" font-size="4.6" text-anchor="middle" fill="#1c1c1c" font-weight="normal" stroke="#1c1c1c" stroke-width="0.2">###</text><line x1="420.25" y1="329.7" x2="420.25" y2="332.7" stroke="#2a2a2a" stroke-width="0.8"/><text transform="translate(424.2,339.0) rotate(-45)" font-size="6.1" text-anchor="end" fill="#1c1c1c" stroke="#1c1c1c" stroke-width="0.1">MMP9</text><line x1="436.7" y1="286.27" x2="436.7" y2="296.91" stroke="#9a9a9a" stroke-width="1.1"/><line x1="435.5" y1="286.27" x2="437.9" y2="286.27" stroke="#555" stroke-width="0.8"/><rect x="434.70" y="296.91" width="4.0" height="32.79" fill="#ef911b"/><text x="436.70" y="285.67" font-size="4.6" text-anchor="middle" fill="#1c1c1c" font-weight="normal" stroke="#1c1c1c" stroke-width="0.2">**</text><line x1="443.15" y1="311.62" x2="443.15" y2="318.38" stroke="#9a9a9a" stroke-width="1.1"/><line x1="441.95" y1="311.62" x2="444.35" y2="311.62" stroke="#555" stroke-width="0.8"/><rect x="441.15" y="318.38" width="4.0" height="11.32" fill="#36a636"/><text x="443.15" y="311.02" font-size="4.6" text-anchor="middle" fill="#1c1c1c" font-weight="normal" stroke="#1c1c1c" stroke-width="0.2">##</text><line x1="449.6" y1="313.64" x2="449.6" y2="318.04" stroke="#9a9a9a" stroke-width="1.1"/><line x1="448.4" y1="313.64" x2="450.8" y2="313.64" stroke="#555" stroke-width="0.8"/><rect x="447.60" y="318.04" width="4.0" height="11.66" fill="#e1127d"/><text x="449.60" y="313.04" font-size="4.6" text-anchor="middle" fill="#1c1c1c" font-weight="normal" stroke="#1c1c1c" stroke-width="0.2">##</text><line x1="443.15" y1="329.7" x2="443.15" y2="332.7" stroke="#2a2a2a" stroke-width="0.8"/><text transform="translate(447.1,339.0) rotate(-45)" font-size="6.1" text-anchor="end" fill="#1c1c1c" stroke="#1c1c1c" stroke-width="0.1">GATA3</text><line x1="459.6" y1="300.12" x2="459.6" y2="304.18" stroke="#9a9a9a" stroke-width="1.1"/><line x1="458.4" y1="300.12" x2="460.8" y2="300.12" stroke="#555" stroke-width="0.8"/><rect x="457.60" y="304.18" width="4.0" height="25.52" fill="#ef911b"/><text x="459.60" y="299.52" font-size="4.6" text-anchor="middle" fill="#1c1c1c" font-weight="normal" stroke="#1c1c1c" stroke-width="0.2">****</text><line x1="466.05" y1="311.62" x2="466.05" y2="315" stroke="#9a9a9a" stroke-width="1.1"/><line x1="464.85" y1="311.62" x2="467.25" y2="311.62" stroke="#555" stroke-width="0.8"/><rect x="464.05" y="315.00" width="4.0" height="14.70" fill="#36a636"/><text x="466.05" y="311.02" font-size="4.6" text-anchor="middle" fill="#1c1c1c" font-weight="normal" stroke="#1c1c1c" stroke-width="0.2">####</text><line x1="472.5" y1="315.17" x2="472.5" y2="319.22" stroke="#9a9a9a" stroke-width="1.1"/><line x1="471.3" y1="315.17" x2="473.7" y2="315.17" stroke="#555" stroke-width="0.8"/><rect x="470.50" y="319.22" width="4.0" height="10.48" fill="#e1127d"/><text x="472.50" y="314.57" font-size="4.6" text-anchor="middle" fill="#1c1c1c" font-weight="normal" stroke="#1c1c1c" stroke-width="0.2">####</text><line x1="466.05" y1="329.7" x2="466.05" y2="332.7" stroke="#2a2a2a" stroke-width="0.8"/><text transform="translate(470.1,339.0) rotate(-45)" font-size="6.1" text-anchor="end" fill="#1c1c1c" stroke="#1c1c1c" stroke-width="0.1">CCND1</text><line x1="482.4" y1="294.21" x2="482.4" y2="301.48" stroke="#9a9a9a" stroke-width="1.1"/><line x1="481.2" y1="294.21" x2="483.6" y2="294.21" stroke="#555" stroke-width="0.8"/><rect x="480.40" y="301.48" width="4.0" height="28.22" fill="#ef911b"/><text x="482.40" y="293.61" font-size="4.6" text-anchor="middle" fill="#1c1c1c" font-weight="normal" stroke="#1c1c1c" stroke-width="0.2">**</text><line x1="488.85" y1="313.64" x2="488.85" y2="318.04" stroke="#9a9a9a" stroke-width="1.1"/><line x1="487.65" y1="313.64" x2="490.05" y2="313.64" stroke="#555" stroke-width="0.8"/><rect x="486.85" y="318.04" width="4.0" height="11.66" fill="#36a636"/><text x="488.85" y="313.04" font-size="4.6" text-anchor="middle" fill="#1c1c1c" font-weight="normal" stroke="#1c1c1c" stroke-width="0.2">####</text><line x1="495.3" y1="312.8" x2="495.3" y2="315.5" stroke="#9a9a9a" stroke-width="1.1"/><line x1="494.1" y1="312.8" x2="496.5" y2="312.8" stroke="#555" stroke-width="0.8"/><rect x="493.30" y="315.50" width="4.0" height="14.20" fill="#e1127d"/><text x="495.30" y="312.20" font-size="4.6" text-anchor="middle" fill="#1c1c1c" font-weight="normal" stroke="#1c1c1c" stroke-width="0.2">###</text><line x1="488.85" y1="329.7" x2="488.85" y2="332.7" stroke="#2a2a2a" stroke-width="0.8"/><text transform="translate(492.8,339.0) rotate(-45)" font-size="6.1" text-anchor="end" fill="#1c1c1c" stroke="#1c1c1c" stroke-width="0.1">CCR4</text><line x1="384" y1="330" x2="500" y2="330" stroke="#333" stroke-width="1.4"/><line x1="388" y1="312.8" x2="500" y2="312.8" stroke="#555" stroke-width="0.8" stroke-dasharray="1.6,2.2"/><text x="504.2" y="315.0" font-size="6" text-anchor="start" fill="#555" font-weight="normal" stroke="#555" stroke-width="0.05">Veh</text><line x1="386.9" y1="377.9" x2="386.9" y2="449.4" stroke="#484848" stroke-width="1.5"/><line x1="383.2" y1="448.9" x2="386.9" y2="448.9" stroke="#484848" stroke-width="0.9"/><text x="380" y="451.09999999999997" font-size="6.2" text-anchor="end" fill="#3a3a3a" font-weight="normal" stroke="#3a3a3a" stroke-width="0.15">0</text><line x1="383.2" y1="431.45" x2="386.9" y2="431.45" stroke="#484848" stroke-width="0.9"/><text x="380" y="433.65" font-size="6.2" text-anchor="end" fill="#3a3a3a" font-weight="normal" stroke="#3a3a3a" stroke-width="0.15">1</text><line x1="383.2" y1="414" x2="386.9" y2="414" stroke="#484848" stroke-width="0.9"/><text x="380" y="416.2" font-size="6.2" text-anchor="end" fill="#3a3a3a" font-weight="normal" stroke="#3a3a3a" stroke-width="0.15">2</text><line x1="383.2" y1="396.55" x2="386.9" y2="396.55" stroke="#484848" stroke-width="0.9"/><text x="380" y="398.74999999999994" font-size="6.2" text-anchor="end" fill="#3a3a3a" font-weight="normal" stroke="#3a3a3a" stroke-width="0.15">3</text><line x1="383.2" y1="379.1" x2="386.9" y2="379.1" stroke="#484848" stroke-width="0.9"/><text x="380" y="381.29999999999995" font-size="6.2" text-anchor="end" fill="#3a3a3a" font-weight="normal" stroke="#3a3a3a" stroke-width="0.15">4</text><text transform="translate(371.6,412.0) rotate(-90)" font-size="6.1" text-anchor="middle" fill="#222" stroke="#222" stroke-width="0.28" textLength="59.5" lengthAdjust="spacingAndGlyphs">mRNA levels to <tspan font-style="italic">RPL13a</tspan></text><line x1="391" y1="389.22" x2="391" y2="409.29" stroke="#9a9a9a" stroke-width="1.1"/><line x1="389.8" y1="389.22" x2="392.2" y2="389.22" stroke="#555" stroke-width="0.8"/><rect x="389.00" y="409.29" width="4.0" height="39.61" fill="#ef911b"/><text x="391.00" y="388.62" font-size="4.6" text-anchor="middle" fill="#1c1c1c" font-weight="normal" stroke="#1c1c1c" stroke-width="0.2">**</text><line x1="397.45" y1="434.07" x2="397.45" y2="438.78" stroke="#9a9a9a" stroke-width="1.1"/><line x1="396.25" y1="434.07" x2="398.65" y2="434.07" stroke="#555" stroke-width="0.8"/><rect x="395.45" y="438.78" width="4.0" height="10.12" fill="#36a636"/><text x="397.45" y="433.47" font-size="4.6" text-anchor="middle" fill="#1c1c1c" font-weight="normal" stroke="#1c1c1c" stroke-width="0.2">##</text><line x1="403.9" y1="431.45" x2="403.9" y2="435.29" stroke="#9a9a9a" stroke-width="1.1"/><line x1="402.7" y1="431.45" x2="405.1" y2="431.45" stroke="#555" stroke-width="0.8"/><rect x="401.90" y="435.29" width="4.0" height="13.61" fill="#e1127d"/><text x="403.90" y="430.85" font-size="4.6" text-anchor="middle" fill="#1c1c1c" font-weight="normal" stroke="#1c1c1c" stroke-width="0.2">#</text><line x1="397.45" y1="448.9" x2="397.45" y2="451.9" stroke="#2a2a2a" stroke-width="0.8"/><text transform="translate(401.4,458.2) rotate(-45)" font-size="6.1" text-anchor="end" fill="#1c1c1c" stroke="#1c1c1c" stroke-width="0.1">MMP2</text><line x1="413.8" y1="408.94" x2="413.8" y2="422.03" stroke="#9a9a9a" stroke-width="1.1"/><line x1="412.6" y1="408.94" x2="415" y2="408.94" stroke="#555" stroke-width="0.8"/><rect x="411.80" y="422.03" width="4.0" height="26.87" fill="#ef911b"/><text x="413.80" y="408.34" font-size="4.6" text-anchor="middle" fill="#1c1c1c" font-weight="normal" stroke="#1c1c1c" stroke-width="0.2">**</text><line x1="420.25" y1="431.97" x2="420.25" y2="433.37" stroke="#9a9a9a" stroke-width="1.1"/><line x1="419.05" y1="431.97" x2="421.45" y2="431.97" stroke="#555" stroke-width="0.8"/><rect x="418.25" y="433.37" width="4.0" height="15.53" fill="#36a636"/><line x1="426.7" y1="433.54" x2="426.7" y2="435.29" stroke="#9a9a9a" stroke-width="1.1"/><line x1="425.5" y1="433.54" x2="427.9" y2="433.54" stroke="#555" stroke-width="0.8"/><rect x="424.70" y="435.29" width="4.0" height="13.61" fill="#e1127d"/><text x="426.70" y="432.94" font-size="4.6" text-anchor="middle" fill="#1c1c1c" font-weight="normal" stroke="#1c1c1c" stroke-width="0.2">$</text><line x1="420.25" y1="448.9" x2="420.25" y2="451.9" stroke="#2a2a2a" stroke-width="0.8"/><text transform="translate(424.2,458.2) rotate(-45)" font-size="6.1" text-anchor="end" fill="#1c1c1c" stroke="#1c1c1c" stroke-width="0.1">MMP9</text><line x1="436.7" y1="426.39" x2="436.7" y2="433.54" stroke="#9a9a9a" stroke-width="1.1"/><line x1="435.5" y1="426.39" x2="437.9" y2="426.39" stroke="#555" stroke-width="0.8"/><rect x="434.70" y="433.54" width="4.0" height="15.36" fill="#ef911b"/><line x1="443.15" y1="433.19" x2="443.15" y2="433.89" stroke="#9a9a9a" stroke-width="1.1"/><line x1="441.95" y1="433.19" x2="444.35" y2="433.19" stroke="#555" stroke-width="0.8"/><rect x="441.15" y="433.89" width="4.0" height="15.01" fill="#36a636"/><line x1="449.6" y1="438.43" x2="449.6" y2="441.57" stroke="#9a9a9a" stroke-width="1.1"/><line x1="448.4" y1="438.43" x2="450.8" y2="438.43" stroke="#555" stroke-width="0.8"/><rect x="447.60" y="441.57" width="4.0" height="7.33" fill="#e1127d"/><text x="449.60" y="437.83" font-size="4.6" text-anchor="middle" fill="#1c1c1c" font-weight="normal" stroke="#1c1c1c" stroke-width="0.2">#</text><line x1="443.15" y1="448.9" x2="443.15" y2="451.9" stroke="#2a2a2a" stroke-width="0.8"/><text transform="translate(447.1,458.2) rotate(-45)" font-size="6.1" text-anchor="end" fill="#1c1c1c" stroke="#1c1c1c" stroke-width="0.1">GATA3</text><line x1="459.6" y1="397.42" x2="459.6" y2="415.92" stroke="#9a9a9a" stroke-width="1.1"/><line x1="458.4" y1="397.42" x2="460.8" y2="397.42" stroke="#555" stroke-width="0.8"/><rect x="457.60" y="415.92" width="4.0" height="32.98" fill="#ef911b"/><line x1="466.05" y1="427.96" x2="466.05" y2="437.38" stroke="#9a9a9a" stroke-width="1.1"/><line x1="464.85" y1="427.96" x2="467.25" y2="427.96" stroke="#555" stroke-width="0.8"/><rect x="464.05" y="437.38" width="4.0" height="11.52" fill="#36a636"/><text x="466.05" y="427.36" font-size="4.6" text-anchor="middle" fill="#1c1c1c" font-weight="normal" stroke="#1c1c1c" stroke-width="0.2">#</text><line x1="472.5" y1="432.32" x2="472.5" y2="437.91" stroke="#9a9a9a" stroke-width="1.1"/><line x1="471.3" y1="432.32" x2="473.7" y2="432.32" stroke="#555" stroke-width="0.8"/><rect x="470.50" y="437.91" width="4.0" height="10.99" fill="#e1127d"/><line x1="466.05" y1="448.9" x2="466.05" y2="451.9" stroke="#2a2a2a" stroke-width="0.8"/><text transform="translate(470.1,458.2) rotate(-45)" font-size="6.1" text-anchor="end" fill="#1c1c1c" stroke="#1c1c1c" stroke-width="0.1">CCND1</text><line x1="482.4" y1="420.11" x2="482.4" y2="422.72" stroke="#9a9a9a" stroke-width="1.1"/><line x1="481.2" y1="420.11" x2="483.6" y2="420.11" stroke="#555" stroke-width="0.8"/><rect x="480.40" y="422.72" width="4.0" height="26.17" fill="#ef911b"/><text x="482.40" y="419.51" font-size="4.6" text-anchor="middle" fill="#1c1c1c" font-weight="normal" stroke="#1c1c1c" stroke-width="0.2">***</text><line x1="488.85" y1="432.32" x2="488.85" y2="435.11" stroke="#9a9a9a" stroke-width="1.1"/><line x1="487.65" y1="432.32" x2="490.05" y2="432.32" stroke="#555" stroke-width="0.8"/><rect x="486.85" y="435.11" width="4.0" height="13.79" fill="#36a636"/><text x="488.85" y="431.72" font-size="4.6" text-anchor="middle" fill="#1c1c1c" font-weight="normal" stroke="#1c1c1c" stroke-width="0.2">####</text><line x1="495.3" y1="436.69" x2="495.3" y2="438.78" stroke="#9a9a9a" stroke-width="1.1"/><line x1="494.1" y1="436.69" x2="496.5" y2="436.69" stroke="#555" stroke-width="0.8"/><rect x="493.30" y="438.78" width="4.0" height="10.12" fill="#e1127d"/><text x="495.30" y="436.08" font-size="4.6" text-anchor="middle" fill="#1c1c1c" font-weight="normal" stroke="#1c1c1c" stroke-width="0.2">####</text><line x1="488.85" y1="448.9" x2="488.85" y2="451.9" stroke="#2a2a2a" stroke-width="0.8"/><text transform="translate(492.8,458.2) rotate(-45)" font-size="6.1" text-anchor="end" fill="#1c1c1c" stroke="#1c1c1c" stroke-width="0.1">CCR4</text><line x1="384" y1="449.2" x2="500" y2="449.2" stroke="#333" stroke-width="1.4"/><line x1="388" y1="431.45" x2="500" y2="431.45" stroke="#555" stroke-width="0.8" stroke-dasharray="1.6,2.2"/><text x="504.2" y="433.65" font-size="6" text-anchor="start" fill="#555" font-weight="normal" stroke="#555" stroke-width="0.05">Veh</text><text x="443.4" y="371.6" font-size="7.9" text-anchor="middle" fill="#1c1c1c" font-weight="normal" stroke="#1c1c1c" stroke-width="0.14">EL4</text><rect x="408.6" y="480.6" width="5" height="5" fill="#ef911b"/><text x="417" y="485.6" font-size="6" text-anchor="start" fill="#1c1c1c" font-weight="normal" stroke="#1c1c1c" stroke-width="0.14">TH</text><rect x="430.6" y="480.6" width="5" height="5" fill="#36a636"/><text x="439.3" y="485.6" font-size="6" text-anchor="start" fill="#1c1c1c" font-weight="normal" stroke="#1c1c1c" stroke-width="0.14">THC</text><rect x="457.7" y="480.6" width="5" height="5" fill="#e1127d"/><text x="466.2" y="485.6" font-size="6" text-anchor="start" fill="#1c1c1c" font-weight="normal" stroke="#1c1c1c" stroke-width="0.14">THR</text><rect x="0.5" y="0.5" width="518.5" height="491.5" fill="none" stroke="#555" stroke-width="1"/><rect x="518.6" y="0" width="1.4" height="493" fill="#444"/><rect x="0" y="491.6" width="520" height="1.4" fill="#444"/></svg>
</body></html>
